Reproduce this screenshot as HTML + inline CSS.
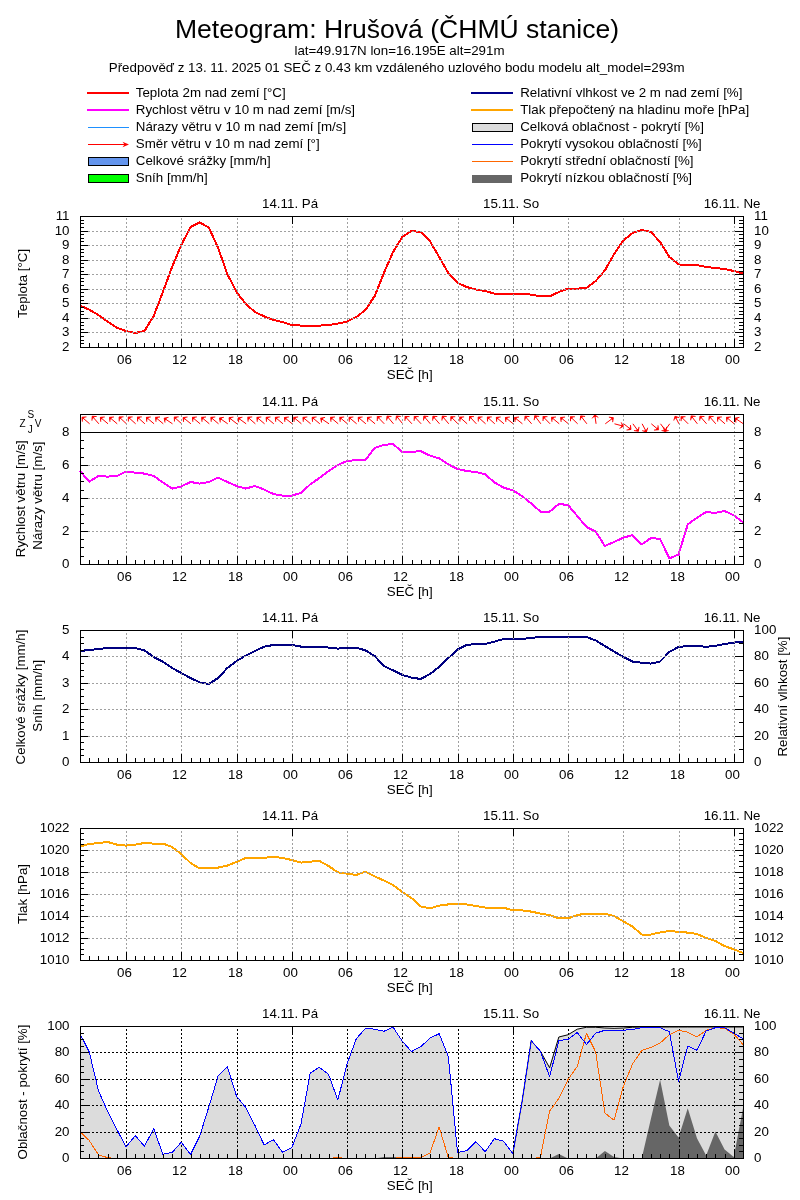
<!DOCTYPE html>
<html><head><meta charset="utf-8"><style>
html,body{margin:0;padding:0;background:#fff;width:800px;height:1200px;overflow:hidden}
svg{display:block;will-change:transform}
text{font-family:"Liberation Sans",sans-serif}
</style></head><body>
<svg width="800" height="1200" viewBox="0 0 800 1200" font-family="Liberation Sans, sans-serif">
<rect width="800" height="1200" fill="#fff"/>
<text x="397.00" y="37.50" font-size="26.55" text-anchor="middle" fill="#000" >Meteogram: Hrušová (ČHMÚ stanice)</text>
<text x="399.50" y="55.00" font-size="13.33" text-anchor="middle" fill="#000" >lat=49.917N lon=16.195E alt=291m</text>
<text x="396.70" y="72.00" font-size="13.33" text-anchor="middle" fill="#000" >Předpověď z 13. 11. 2025 01 SEČ z 0.43 km vzdáleného uzlového bodu modelu alt_model=293m</text>
<line x1="87" y1="93" x2="129" y2="93" stroke="#ff0000" stroke-width="2"/>
<text x="135.80" y="96.60" font-size="13.33" text-anchor="start" fill="#000" >Teplota 2m nad zemí [°C]</text>
<line x1="87" y1="110" x2="129" y2="110" stroke="#ff00ff" stroke-width="2"/>
<text x="135.80" y="113.60" font-size="13.33" text-anchor="start" fill="#000" >Rychlost větru v 10 m nad zemí [m/s]</text>
<line x1="88" y1="127.5" x2="129" y2="127.5" stroke="#1e90ff" stroke-width="1"/>
<text x="135.80" y="130.60" font-size="13.33" text-anchor="start" fill="#000" >Nárazy větru v 10 m nad zemí [m/s]</text>
<line x1="88" y1="144.5" x2="125" y2="144.5" stroke="#ff0000" stroke-width="1"/>
<path d="M129,144.5 L122.5,141.8 L124.5,144.5 L122.5,147.2 Z" fill="#ff0000"/>
<text x="135.80" y="147.60" font-size="13.33" text-anchor="start" fill="#000" >Směr větru v 10 m nad zemí [°]</text>
<rect x="88.5" y="157.5" width="40" height="8" fill="#6495ed" stroke="#000" stroke-width="1"/>
<text x="135.80" y="164.60" font-size="13.33" text-anchor="start" fill="#000" >Celkové srážky [mm/h]</text>
<rect x="88.5" y="174.5" width="40" height="8" fill="#00ff00" stroke="#000" stroke-width="1"/>
<text x="135.80" y="181.60" font-size="13.33" text-anchor="start" fill="#000" >Sníh [mm/h]</text>
<line x1="471" y1="93" x2="513" y2="93" stroke="#00008b" stroke-width="2"/>
<text x="520.20" y="96.60" font-size="13.33" text-anchor="start" fill="#000" >Relativní vlhkost ve 2 m nad zemí [%]</text>
<line x1="471" y1="110" x2="513" y2="110" stroke="#ffa500" stroke-width="2"/>
<text x="520.20" y="113.60" font-size="13.33" text-anchor="start" fill="#000" >Tlak přepočtený na hladinu moře [hPa]</text>
<rect x="472.5" y="123.5" width="40" height="8" fill="#dcdcdc" stroke="#000" stroke-width="1"/>
<text x="520.20" y="130.60" font-size="13.33" text-anchor="start" fill="#000" >Celková oblačnost - pokrytí [%]</text>
<line x1="472" y1="144.5" x2="513" y2="144.5" stroke="#0000ff" stroke-width="1"/>
<text x="520.20" y="147.60" font-size="13.33" text-anchor="start" fill="#000" >Pokrytí vysokou oblačností [%]</text>
<line x1="472" y1="161.5" x2="513" y2="161.5" stroke="#ff6600" stroke-width="1"/>
<text x="520.20" y="164.60" font-size="13.33" text-anchor="start" fill="#000" >Pokrytí střední oblačností [%]</text>
<rect x="472" y="175" width="40" height="8" fill="#666666"/>
<text x="520.20" y="181.60" font-size="13.33" text-anchor="start" fill="#000" >Pokrytí nízkou oblačností [%]</text>
<polyline points="80.00,305.60 89.21,309.60 98.42,315.00 107.62,321.60 116.83,327.60 126.04,331.00 135.25,333.00 144.46,331.00 153.67,316.00 162.88,292.00 172.08,267.00 181.29,245.00 190.50,227.00 199.71,222.40 208.92,227.60 218.12,248.00 227.33,274.00 236.54,292.00 245.75,304.00 254.96,312.00 264.17,316.40 273.38,320.00 282.58,322.00 291.79,325.00 301.00,325.60 310.21,325.60 319.42,325.60 328.62,325.00 337.83,323.60 347.04,321.60 356.25,317.00 365.46,310.00 374.67,296.00 383.88,273.00 393.08,252.00 402.29,237.00 411.50,231.00 420.71,232.00 429.92,241.00 439.12,257.00 448.33,273.00 457.54,283.00 466.75,287.00 475.96,289.60 485.17,291.00 494.38,293.60 503.58,293.60 512.79,293.60 522.00,293.60 531.21,294.60 540.42,296.40 549.62,296.40 558.83,292.00 568.04,288.60 577.25,288.60 586.46,288.00 595.67,281.00 604.88,270.40 614.08,254.00 623.29,240.50 632.50,233.00 641.71,230.00 650.92,232.00 660.12,242.00 669.33,257.00 678.54,264.40 687.75,265.00 696.96,265.00 706.17,267.00 715.38,268.00 724.58,269.00 733.79,271.00 743.00,273.40" fill="none" stroke="#ff0000" stroke-width="2" stroke-linejoin="round" stroke-linecap="butt" shape-rendering="crispEdges"/>
<g stroke="#a0a0a0" stroke-width="1" stroke-dasharray="2,2" fill="none"><line x1="80" y1="332.5" x2="743" y2="332.5"/><line x1="80" y1="318.5" x2="743" y2="318.5"/><line x1="80" y1="303.5" x2="743" y2="303.5"/><line x1="80" y1="289.5" x2="743" y2="289.5"/><line x1="80" y1="274.5" x2="743" y2="274.5"/><line x1="80" y1="260.5" x2="743" y2="260.5"/><line x1="80" y1="245.5" x2="743" y2="245.5"/><line x1="80" y1="231.5" x2="743" y2="231.5"/><line x1="126.5" y1="348" x2="126.5" y2="216"/><line x1="181.5" y1="348" x2="181.5" y2="216"/><line x1="237.5" y1="348" x2="237.5" y2="216"/><line x1="292.5" y1="348" x2="292.5" y2="216"/><line x1="347.5" y1="348" x2="347.5" y2="216"/><line x1="402.5" y1="348" x2="402.5" y2="216"/><line x1="458.5" y1="348" x2="458.5" y2="216"/><line x1="513.5" y1="348" x2="513.5" y2="216"/><line x1="568.5" y1="348" x2="568.5" y2="216"/><line x1="623.5" y1="348" x2="623.5" y2="216"/><line x1="679.5" y1="348" x2="679.5" y2="216"/><line x1="734.5" y1="348" x2="734.5" y2="216"/></g>
<g stroke="#000" stroke-width="1" fill="none"><line x1="80" y1="347.5" x2="88" y2="347.5"/><line x1="735" y1="347.5" x2="743" y2="347.5"/><line x1="80" y1="343.5" x2="84" y2="343.5"/><line x1="739" y1="343.5" x2="743" y2="343.5"/><line x1="80" y1="340.5" x2="84" y2="340.5"/><line x1="739" y1="340.5" x2="743" y2="340.5"/><line x1="80" y1="336.5" x2="84" y2="336.5"/><line x1="739" y1="336.5" x2="743" y2="336.5"/><line x1="80" y1="332.5" x2="88" y2="332.5"/><line x1="735" y1="332.5" x2="743" y2="332.5"/><line x1="80" y1="329.5" x2="84" y2="329.5"/><line x1="739" y1="329.5" x2="743" y2="329.5"/><line x1="80" y1="325.5" x2="84" y2="325.5"/><line x1="739" y1="325.5" x2="743" y2="325.5"/><line x1="80" y1="322.5" x2="84" y2="322.5"/><line x1="739" y1="322.5" x2="743" y2="322.5"/><line x1="80" y1="318.5" x2="88" y2="318.5"/><line x1="735" y1="318.5" x2="743" y2="318.5"/><line x1="80" y1="314.5" x2="84" y2="314.5"/><line x1="739" y1="314.5" x2="743" y2="314.5"/><line x1="80" y1="311.5" x2="84" y2="311.5"/><line x1="739" y1="311.5" x2="743" y2="311.5"/><line x1="80" y1="307.5" x2="84" y2="307.5"/><line x1="739" y1="307.5" x2="743" y2="307.5"/><line x1="80" y1="303.5" x2="88" y2="303.5"/><line x1="735" y1="303.5" x2="743" y2="303.5"/><line x1="80" y1="300.5" x2="84" y2="300.5"/><line x1="739" y1="300.5" x2="743" y2="300.5"/><line x1="80" y1="296.5" x2="84" y2="296.5"/><line x1="739" y1="296.5" x2="743" y2="296.5"/><line x1="80" y1="292.5" x2="84" y2="292.5"/><line x1="739" y1="292.5" x2="743" y2="292.5"/><line x1="80" y1="289.5" x2="88" y2="289.5"/><line x1="735" y1="289.5" x2="743" y2="289.5"/><line x1="80" y1="285.5" x2="84" y2="285.5"/><line x1="739" y1="285.5" x2="743" y2="285.5"/><line x1="80" y1="281.5" x2="84" y2="281.5"/><line x1="739" y1="281.5" x2="743" y2="281.5"/><line x1="80" y1="278.5" x2="84" y2="278.5"/><line x1="739" y1="278.5" x2="743" y2="278.5"/><line x1="80" y1="274.5" x2="88" y2="274.5"/><line x1="735" y1="274.5" x2="743" y2="274.5"/><line x1="80" y1="271.5" x2="84" y2="271.5"/><line x1="739" y1="271.5" x2="743" y2="271.5"/><line x1="80" y1="267.5" x2="84" y2="267.5"/><line x1="739" y1="267.5" x2="743" y2="267.5"/><line x1="80" y1="263.5" x2="84" y2="263.5"/><line x1="739" y1="263.5" x2="743" y2="263.5"/><line x1="80" y1="260.5" x2="88" y2="260.5"/><line x1="735" y1="260.5" x2="743" y2="260.5"/><line x1="80" y1="256.5" x2="84" y2="256.5"/><line x1="739" y1="256.5" x2="743" y2="256.5"/><line x1="80" y1="252.5" x2="84" y2="252.5"/><line x1="739" y1="252.5" x2="743" y2="252.5"/><line x1="80" y1="249.5" x2="84" y2="249.5"/><line x1="739" y1="249.5" x2="743" y2="249.5"/><line x1="80" y1="245.5" x2="88" y2="245.5"/><line x1="735" y1="245.5" x2="743" y2="245.5"/><line x1="80" y1="241.5" x2="84" y2="241.5"/><line x1="739" y1="241.5" x2="743" y2="241.5"/><line x1="80" y1="238.5" x2="84" y2="238.5"/><line x1="739" y1="238.5" x2="743" y2="238.5"/><line x1="80" y1="234.5" x2="84" y2="234.5"/><line x1="739" y1="234.5" x2="743" y2="234.5"/><line x1="80" y1="231.5" x2="88" y2="231.5"/><line x1="735" y1="231.5" x2="743" y2="231.5"/><line x1="80" y1="227.5" x2="84" y2="227.5"/><line x1="739" y1="227.5" x2="743" y2="227.5"/><line x1="80" y1="223.5" x2="84" y2="223.5"/><line x1="739" y1="223.5" x2="743" y2="223.5"/><line x1="80" y1="220.5" x2="84" y2="220.5"/><line x1="739" y1="220.5" x2="743" y2="220.5"/><line x1="80" y1="216.5" x2="88" y2="216.5"/><line x1="735" y1="216.5" x2="743" y2="216.5"/><line x1="80.5" y1="347" x2="80.5" y2="343"/><line x1="89.5" y1="347" x2="89.5" y2="343"/><line x1="98.5" y1="347" x2="98.5" y2="343"/><line x1="108.5" y1="347" x2="108.5" y2="343"/><line x1="117.5" y1="347" x2="117.5" y2="343"/><line x1="126.5" y1="347" x2="126.5" y2="339"/><line x1="135.5" y1="347" x2="135.5" y2="343"/><line x1="144.5" y1="347" x2="144.5" y2="343"/><line x1="154.5" y1="347" x2="154.5" y2="343"/><line x1="163.5" y1="347" x2="163.5" y2="343"/><line x1="172.5" y1="347" x2="172.5" y2="343"/><line x1="181.5" y1="347" x2="181.5" y2="339"/><line x1="191.5" y1="347" x2="191.5" y2="343"/><line x1="200.5" y1="347" x2="200.5" y2="343"/><line x1="209.5" y1="347" x2="209.5" y2="343"/><line x1="218.5" y1="347" x2="218.5" y2="343"/><line x1="227.5" y1="347" x2="227.5" y2="343"/><line x1="237.5" y1="347" x2="237.5" y2="339"/><line x1="246.5" y1="347" x2="246.5" y2="343"/><line x1="255.5" y1="347" x2="255.5" y2="343"/><line x1="264.5" y1="347" x2="264.5" y2="343"/><line x1="273.5" y1="347" x2="273.5" y2="343"/><line x1="283.5" y1="347" x2="283.5" y2="343"/><line x1="292.5" y1="347" x2="292.5" y2="339"/><line x1="292.5" y1="216" x2="292.5" y2="224"/><line x1="301.5" y1="347" x2="301.5" y2="343"/><line x1="310.5" y1="347" x2="310.5" y2="343"/><line x1="319.5" y1="347" x2="319.5" y2="343"/><line x1="329.5" y1="347" x2="329.5" y2="343"/><line x1="338.5" y1="347" x2="338.5" y2="343"/><line x1="347.5" y1="347" x2="347.5" y2="339"/><line x1="356.5" y1="347" x2="356.5" y2="343"/><line x1="365.5" y1="347" x2="365.5" y2="343"/><line x1="375.5" y1="347" x2="375.5" y2="343"/><line x1="384.5" y1="347" x2="384.5" y2="343"/><line x1="393.5" y1="347" x2="393.5" y2="343"/><line x1="402.5" y1="347" x2="402.5" y2="339"/><line x1="412.5" y1="347" x2="412.5" y2="343"/><line x1="421.5" y1="347" x2="421.5" y2="343"/><line x1="430.5" y1="347" x2="430.5" y2="343"/><line x1="439.5" y1="347" x2="439.5" y2="343"/><line x1="448.5" y1="347" x2="448.5" y2="343"/><line x1="458.5" y1="347" x2="458.5" y2="339"/><line x1="467.5" y1="347" x2="467.5" y2="343"/><line x1="476.5" y1="347" x2="476.5" y2="343"/><line x1="485.5" y1="347" x2="485.5" y2="343"/><line x1="494.5" y1="347" x2="494.5" y2="343"/><line x1="504.5" y1="347" x2="504.5" y2="343"/><line x1="513.5" y1="347" x2="513.5" y2="339"/><line x1="513.5" y1="216" x2="513.5" y2="224"/><line x1="522.5" y1="347" x2="522.5" y2="343"/><line x1="531.5" y1="347" x2="531.5" y2="343"/><line x1="540.5" y1="347" x2="540.5" y2="343"/><line x1="550.5" y1="347" x2="550.5" y2="343"/><line x1="559.5" y1="347" x2="559.5" y2="343"/><line x1="568.5" y1="347" x2="568.5" y2="339"/><line x1="577.5" y1="347" x2="577.5" y2="343"/><line x1="586.5" y1="347" x2="586.5" y2="343"/><line x1="596.5" y1="347" x2="596.5" y2="343"/><line x1="605.5" y1="347" x2="605.5" y2="343"/><line x1="614.5" y1="347" x2="614.5" y2="343"/><line x1="623.5" y1="347" x2="623.5" y2="339"/><line x1="633.5" y1="347" x2="633.5" y2="343"/><line x1="642.5" y1="347" x2="642.5" y2="343"/><line x1="651.5" y1="347" x2="651.5" y2="343"/><line x1="660.5" y1="347" x2="660.5" y2="343"/><line x1="669.5" y1="347" x2="669.5" y2="343"/><line x1="679.5" y1="347" x2="679.5" y2="339"/><line x1="688.5" y1="347" x2="688.5" y2="343"/><line x1="697.5" y1="347" x2="697.5" y2="343"/><line x1="706.5" y1="347" x2="706.5" y2="343"/><line x1="715.5" y1="347" x2="715.5" y2="343"/><line x1="725.5" y1="347" x2="725.5" y2="343"/><line x1="734.5" y1="347" x2="734.5" y2="339"/><line x1="734.5" y1="216" x2="734.5" y2="224"/><line x1="743.5" y1="347" x2="743.5" y2="343"/><rect x="80.5" y="216.5" width="663" height="131"/></g>
<text x="69.50" y="351.20" font-size="13.33" text-anchor="end" fill="#000" >2</text>
<text x="754.10" y="351.20" font-size="13.33" text-anchor="start" fill="#000" >2</text>
<text x="69.50" y="336.20" font-size="13.33" text-anchor="end" fill="#000" >3</text>
<text x="754.10" y="336.20" font-size="13.33" text-anchor="start" fill="#000" >3</text>
<text x="69.50" y="322.20" font-size="13.33" text-anchor="end" fill="#000" >4</text>
<text x="754.10" y="322.20" font-size="13.33" text-anchor="start" fill="#000" >4</text>
<text x="69.50" y="307.20" font-size="13.33" text-anchor="end" fill="#000" >5</text>
<text x="754.10" y="307.20" font-size="13.33" text-anchor="start" fill="#000" >5</text>
<text x="69.50" y="293.20" font-size="13.33" text-anchor="end" fill="#000" >6</text>
<text x="754.10" y="293.20" font-size="13.33" text-anchor="start" fill="#000" >6</text>
<text x="69.50" y="278.20" font-size="13.33" text-anchor="end" fill="#000" >7</text>
<text x="754.10" y="278.20" font-size="13.33" text-anchor="start" fill="#000" >7</text>
<text x="69.50" y="264.20" font-size="13.33" text-anchor="end" fill="#000" >8</text>
<text x="754.10" y="264.20" font-size="13.33" text-anchor="start" fill="#000" >8</text>
<text x="69.50" y="249.20" font-size="13.33" text-anchor="end" fill="#000" >9</text>
<text x="754.10" y="249.20" font-size="13.33" text-anchor="start" fill="#000" >9</text>
<text x="69.50" y="235.20" font-size="13.33" text-anchor="end" fill="#000" >10</text>
<text x="754.10" y="235.20" font-size="13.33" text-anchor="start" fill="#000" >10</text>
<text x="69.50" y="220.20" font-size="13.33" text-anchor="end" fill="#000" >11</text>
<text x="754.10" y="220.20" font-size="13.33" text-anchor="start" fill="#000" >11</text>
<text x="124.50" y="364.00" font-size="13.33" text-anchor="middle" fill="#000" >06</text>
<text x="179.50" y="364.00" font-size="13.33" text-anchor="middle" fill="#000" >12</text>
<text x="235.50" y="364.00" font-size="13.33" text-anchor="middle" fill="#000" >18</text>
<text x="290.50" y="364.00" font-size="13.33" text-anchor="middle" fill="#000" >00</text>
<text x="345.50" y="364.00" font-size="13.33" text-anchor="middle" fill="#000" >06</text>
<text x="400.50" y="364.00" font-size="13.33" text-anchor="middle" fill="#000" >12</text>
<text x="456.50" y="364.00" font-size="13.33" text-anchor="middle" fill="#000" >18</text>
<text x="511.50" y="364.00" font-size="13.33" text-anchor="middle" fill="#000" >00</text>
<text x="566.50" y="364.00" font-size="13.33" text-anchor="middle" fill="#000" >06</text>
<text x="621.50" y="364.00" font-size="13.33" text-anchor="middle" fill="#000" >12</text>
<text x="677.50" y="364.00" font-size="13.33" text-anchor="middle" fill="#000" >18</text>
<text x="732.50" y="364.00" font-size="13.33" text-anchor="middle" fill="#000" >00</text>
<text x="409.75" y="379.30" font-size="13.33" text-anchor="middle" fill="#000" >SEČ [h]</text>
<text x="290.10" y="208.00" font-size="13.33" text-anchor="middle" fill="#000" >14.11. Pá</text>
<text x="511.10" y="208.00" font-size="13.33" text-anchor="middle" fill="#000" >15.11. So</text>
<text x="732.10" y="208.00" font-size="13.33" text-anchor="middle" fill="#000" >16.11. Ne</text>
<text x="0" y="0" font-size="13.33" text-anchor="middle" transform="translate(27,283.4) rotate(-90)">Teplota [°C]</text>
<polyline points="80.00,471.00 89.21,481.60 98.42,476.00 107.62,476.60 116.83,476.00 126.04,471.60 135.25,472.60 144.46,473.60 153.67,476.00 162.88,482.40 172.08,488.60 181.29,486.40 190.50,482.00 199.71,483.60 208.92,482.00 218.12,477.60 227.33,482.00 236.54,486.00 245.75,488.60 254.96,486.00 264.17,489.60 273.38,494.00 282.58,495.60 291.79,495.60 301.00,493.00 310.21,484.40 319.42,478.00 328.62,471.00 337.83,465.00 347.04,461.00 356.25,460.00 365.46,460.00 374.67,448.00 383.88,445.00 393.08,444.00 402.29,452.00 411.50,452.00 420.71,451.00 429.92,455.60 439.12,458.40 448.33,464.40 457.54,469.00 466.75,471.00 475.96,472.00 485.17,474.40 494.38,482.40 503.58,487.60 512.79,490.40 522.00,496.00 531.21,503.40 540.42,511.60 549.62,511.60 558.83,504.00 568.04,505.00 577.25,516.00 586.46,527.00 595.67,531.60 604.88,546.00 614.08,542.00 623.29,537.60 632.50,535.20 641.71,544.50 650.92,538.00 660.12,539.00 669.33,558.40 678.54,554.50 687.75,524.50 696.96,517.70 706.17,512.00 715.38,512.90 724.58,511.00 733.79,515.30 743.00,522.30" fill="none" stroke="#ff00ff" stroke-width="2" stroke-linejoin="round" stroke-linecap="butt" shape-rendering="crispEdges"/><g stroke="#ff0000" fill="#ff0000" stroke-width="1"><line x1="89.61" y1="423.80" x2="82.06" y2="417.24"/><polyline fill="none" points="82.37,421.63 82.06,417.24 86.45,416.93"/><polygon stroke="none" points="82.06,417.24 82.27,420.23 85.05,417.03"/><line x1="98.82" y1="423.80" x2="92.26" y2="416.25"/><polyline fill="none" points="91.95,420.64 92.26,416.25 96.65,416.56"/><polygon stroke="none" points="92.26,416.25 92.05,419.25 95.25,416.46"/><line x1="108.03" y1="423.80" x2="100.36" y2="417.37"/><polyline fill="none" points="100.75,421.76 100.36,417.37 104.75,416.99"/><polygon stroke="none" points="100.36,417.37 100.63,420.36 103.35,417.11"/><line x1="117.23" y1="423.80" x2="109.57" y2="417.37"/><polyline fill="none" points="109.96,421.76 109.57,417.37 113.96,416.99"/><polygon stroke="none" points="109.57,417.37 109.83,420.36 112.56,417.11"/><line x1="126.44" y1="423.80" x2="119.13" y2="416.98"/><polyline fill="none" points="119.28,421.38 119.13,416.98 123.53,416.83"/><polygon stroke="none" points="119.13,416.98 119.23,419.98 122.13,416.88"/><line x1="135.65" y1="423.80" x2="128.22" y2="417.11"/><polyline fill="none" points="128.45,421.50 128.22,417.11 132.61,416.88"/><polygon stroke="none" points="128.22,417.11 128.38,420.10 131.21,416.95"/><line x1="144.86" y1="423.80" x2="137.43" y2="417.11"/><polyline fill="none" points="137.66,421.50 137.43,417.11 141.82,416.88"/><polygon stroke="none" points="137.43,417.11 137.58,420.10 140.42,416.95"/><line x1="154.07" y1="423.80" x2="146.41" y2="417.37"/><polyline fill="none" points="146.79,421.76 146.41,417.37 150.79,416.99"/><polygon stroke="none" points="146.41,417.37 146.67,420.36 149.39,417.11"/><line x1="163.28" y1="423.80" x2="155.61" y2="417.37"/><polyline fill="none" points="156.00,421.76 155.61,417.37 160.00,416.99"/><polygon stroke="none" points="155.61,417.37 155.88,420.36 158.60,417.11"/><line x1="172.48" y1="423.80" x2="164.19" y2="418.21"/><polyline fill="none" points="165.03,422.53 164.19,418.21 168.51,417.37"/><polygon stroke="none" points="164.19,418.21 164.77,421.15 167.14,417.64"/><line x1="181.69" y1="423.80" x2="174.26" y2="417.11"/><polyline fill="none" points="174.49,421.50 174.26,417.11 178.65,416.88"/><polygon stroke="none" points="174.26,417.11 174.42,420.10 177.26,416.95"/><line x1="190.90" y1="423.80" x2="183.13" y2="417.51"/><polyline fill="none" points="183.59,421.88 183.13,417.51 187.50,417.05"/><polygon stroke="none" points="183.13,417.51 183.44,420.49 186.11,417.19"/><line x1="200.11" y1="423.80" x2="192.45" y2="417.37"/><polyline fill="none" points="192.83,421.76 192.45,417.37 196.83,416.99"/><polygon stroke="none" points="192.45,417.37 192.71,420.36 195.44,417.11"/><line x1="209.32" y1="423.80" x2="201.66" y2="417.37"/><polyline fill="none" points="202.04,421.76 201.66,417.37 206.04,416.99"/><polygon stroke="none" points="201.66,417.37 201.92,420.36 204.64,417.11"/><line x1="218.53" y1="423.80" x2="210.86" y2="417.37"/><polyline fill="none" points="211.25,421.76 210.86,417.37 215.25,416.99"/><polygon stroke="none" points="210.86,417.37 211.13,420.36 213.85,417.11"/><line x1="227.73" y1="423.80" x2="219.54" y2="418.06"/><polyline fill="none" points="220.31,422.40 219.54,418.06 223.87,417.30"/><polygon stroke="none" points="219.54,418.06 220.06,421.02 222.50,417.54"/><line x1="236.94" y1="423.80" x2="229.06" y2="417.64"/><polyline fill="none" points="229.60,422.01 229.06,417.64 233.43,417.11"/><polygon stroke="none" points="229.06,417.64 229.43,420.62 232.04,417.28"/><line x1="246.15" y1="423.80" x2="238.06" y2="417.92"/><polyline fill="none" points="238.75,422.27 238.06,417.92 242.41,417.23"/><polygon stroke="none" points="238.06,417.92 238.53,420.89 241.02,417.45"/><line x1="255.36" y1="423.80" x2="247.81" y2="417.24"/><polyline fill="none" points="248.12,421.63 247.81,417.24 252.20,416.93"/><polygon stroke="none" points="247.81,417.24 248.02,420.23 250.80,417.03"/><line x1="264.57" y1="423.80" x2="256.91" y2="417.37"/><polyline fill="none" points="257.29,421.76 256.91,417.37 261.29,416.99"/><polygon stroke="none" points="256.91,417.37 257.17,420.36 259.89,417.11"/><line x1="273.77" y1="423.80" x2="266.11" y2="417.37"/><polyline fill="none" points="266.50,421.76 266.11,417.37 270.50,416.99"/><polygon stroke="none" points="266.11,417.37 266.38,420.36 269.10,417.11"/><line x1="282.98" y1="423.80" x2="275.32" y2="417.37"/><polyline fill="none" points="275.71,421.76 275.32,417.37 279.71,416.99"/><polygon stroke="none" points="275.32,417.37 275.58,420.36 278.31,417.11"/><line x1="292.19" y1="423.80" x2="284.42" y2="417.51"/><polyline fill="none" points="284.88,421.88 284.42,417.51 288.80,417.05"/><polygon stroke="none" points="284.42,417.51 284.73,420.49 287.40,417.19"/><line x1="301.40" y1="423.80" x2="293.74" y2="417.37"/><polyline fill="none" points="294.12,421.76 293.74,417.37 298.12,416.99"/><polygon stroke="none" points="293.74,417.37 294.00,420.36 296.73,417.11"/><line x1="310.61" y1="423.80" x2="302.95" y2="417.37"/><polyline fill="none" points="303.33,421.76 302.95,417.37 307.33,416.99"/><polygon stroke="none" points="302.95,417.37 303.21,420.36 305.94,417.11"/><line x1="319.82" y1="423.80" x2="312.16" y2="417.37"/><polyline fill="none" points="312.54,421.76 312.16,417.37 316.54,416.99"/><polygon stroke="none" points="312.16,417.37 312.42,420.36 315.14,417.11"/><line x1="329.02" y1="423.80" x2="320.73" y2="418.21"/><polyline fill="none" points="321.57,422.53 320.73,418.21 325.05,417.37"/><polygon stroke="none" points="320.73,418.21 321.31,421.15 323.68,417.64"/><line x1="338.23" y1="423.80" x2="330.57" y2="417.37"/><polyline fill="none" points="330.96,421.76 330.57,417.37 334.96,416.99"/><polygon stroke="none" points="330.57,417.37 330.83,420.36 333.56,417.11"/><line x1="347.44" y1="423.80" x2="339.78" y2="417.37"/><polyline fill="none" points="340.16,421.76 339.78,417.37 344.16,416.99"/><polygon stroke="none" points="339.78,417.37 340.04,420.36 342.77,417.11"/><line x1="356.65" y1="423.80" x2="348.99" y2="417.37"/><polyline fill="none" points="349.37,421.76 348.99,417.37 353.37,416.99"/><polygon stroke="none" points="348.99,417.37 349.25,420.36 351.98,417.11"/><line x1="365.86" y1="423.80" x2="358.20" y2="417.37"/><polyline fill="none" points="358.58,421.76 358.20,417.37 362.58,416.99"/><polygon stroke="none" points="358.20,417.37 358.46,420.36 361.19,417.11"/><line x1="375.07" y1="423.80" x2="367.41" y2="417.37"/><polyline fill="none" points="367.79,421.76 367.41,417.37 371.79,416.99"/><polygon stroke="none" points="367.41,417.37 367.67,420.36 370.39,417.11"/><line x1="384.27" y1="423.80" x2="377.33" y2="416.61"/><polyline fill="none" points="377.25,421.01 377.33,416.61 381.73,416.68"/><polygon stroke="none" points="377.33,416.61 377.28,419.61 380.33,416.66"/><line x1="393.48" y1="423.80" x2="387.06" y2="416.14"/><polyline fill="none" points="386.67,420.52 387.06,416.14 391.44,416.52"/><polygon stroke="none" points="387.06,416.14 386.79,419.13 390.04,416.40"/><line x1="402.69" y1="423.80" x2="396.40" y2="416.03"/><polyline fill="none" points="395.94,420.40 396.40,416.03 400.77,416.49"/><polygon stroke="none" points="396.40,416.03 396.08,419.01 399.38,416.34"/><line x1="411.90" y1="423.80" x2="405.08" y2="416.49"/><polyline fill="none" points="404.93,420.88 405.08,416.49 409.48,416.64"/><polygon stroke="none" points="405.08,416.49 404.98,419.48 408.08,416.59"/><line x1="421.11" y1="423.80" x2="414.29" y2="416.49"/><polyline fill="none" points="414.13,420.88 414.29,416.49 418.69,416.64"/><polygon stroke="none" points="414.29,416.49 414.18,419.48 417.29,416.59"/><line x1="430.32" y1="423.80" x2="423.89" y2="416.14"/><polyline fill="none" points="423.51,420.52 423.89,416.14 428.27,416.52"/><polygon stroke="none" points="423.89,416.14 423.63,419.13 426.88,416.40"/><line x1="439.52" y1="423.80" x2="432.96" y2="416.25"/><polyline fill="none" points="432.66,420.64 432.96,416.25 437.35,416.56"/><polygon stroke="none" points="432.96,416.25 432.76,419.25 435.96,416.46"/><line x1="448.73" y1="423.80" x2="442.31" y2="416.14"/><polyline fill="none" points="441.92,420.52 442.31,416.14 446.69,416.52"/><polygon stroke="none" points="442.31,416.14 442.04,419.13 445.29,416.40"/><line x1="457.94" y1="423.80" x2="450.87" y2="416.73"/><polyline fill="none" points="450.87,421.13 450.87,416.73 455.27,416.73"/><polygon stroke="none" points="450.87,416.73 450.87,419.73 453.87,416.73"/><line x1="467.15" y1="423.80" x2="459.72" y2="417.11"/><polyline fill="none" points="459.95,421.50 459.72,417.11 464.11,416.88"/><polygon stroke="none" points="459.72,417.11 459.88,420.10 462.71,416.95"/><line x1="476.36" y1="423.80" x2="469.54" y2="416.49"/><polyline fill="none" points="469.38,420.88 469.54,416.49 473.94,416.64"/><polygon stroke="none" points="469.54,416.49 469.43,419.48 472.54,416.59"/><line x1="485.57" y1="423.80" x2="478.14" y2="417.11"/><polyline fill="none" points="478.37,421.50 478.14,417.11 482.53,416.88"/><polygon stroke="none" points="478.14,417.11 478.29,420.10 481.13,416.95"/><line x1="494.77" y1="423.80" x2="487.34" y2="417.11"/><polyline fill="none" points="487.57,421.50 487.34,417.11 491.74,416.88"/><polygon stroke="none" points="487.34,417.11 487.50,420.10 490.34,416.95"/><line x1="503.98" y1="423.80" x2="496.32" y2="417.37"/><polyline fill="none" points="496.71,421.76 496.32,417.37 500.71,416.99"/><polygon stroke="none" points="496.32,417.37 496.58,420.36 499.31,417.11"/><line x1="513.19" y1="423.80" x2="505.42" y2="417.51"/><polyline fill="none" points="505.88,421.88 505.42,417.51 509.80,417.05"/><polygon stroke="none" points="505.42,417.51 505.73,420.49 508.40,417.19"/><line x1="522.40" y1="423.80" x2="514.63" y2="417.51"/><polyline fill="none" points="515.09,421.88 514.63,417.51 519.00,417.05"/><polygon stroke="none" points="514.63,417.51 514.94,420.49 517.61,417.19"/><line x1="531.61" y1="423.80" x2="525.05" y2="416.25"/><polyline fill="none" points="524.74,420.64 525.05,416.25 529.44,416.56"/><polygon stroke="none" points="525.05,416.25 524.84,419.25 528.04,416.46"/><line x1="540.82" y1="423.80" x2="534.80" y2="415.81"/><polyline fill="none" points="534.19,420.17 534.80,415.81 539.16,416.43"/><polygon stroke="none" points="534.80,415.81 534.38,418.78 537.77,416.23"/><line x1="550.02" y1="423.80" x2="543.08" y2="416.61"/><polyline fill="none" points="543.00,421.01 543.08,416.61 547.48,416.68"/><polygon stroke="none" points="543.08,416.61 543.03,419.61 546.08,416.66"/><line x1="559.23" y1="423.80" x2="551.57" y2="417.37"/><polyline fill="none" points="551.96,421.76 551.57,417.37 555.96,416.99"/><polygon stroke="none" points="551.57,417.37 551.83,420.36 554.56,417.11"/><line x1="568.44" y1="423.80" x2="560.67" y2="417.51"/><polyline fill="none" points="561.13,421.88 560.67,417.51 565.05,417.05"/><polygon stroke="none" points="560.67,417.51 560.98,420.49 563.65,417.19"/><line x1="577.65" y1="423.80" x2="570.46" y2="416.85"/><polyline fill="none" points="570.53,421.25 570.46,416.85 574.86,416.78"/><polygon stroke="none" points="570.46,416.85 570.51,419.85 573.46,416.80"/><line x1="586.86" y1="423.80" x2="580.70" y2="415.92"/><polyline fill="none" points="580.17,420.29 580.70,415.92 585.07,416.46"/><polygon stroke="none" points="580.70,415.92 580.34,418.90 583.68,416.29"/><line x1="596.07" y1="423.80" x2="594.81" y2="414.89"/><polyline fill="none" points="592.17,418.40 594.81,414.89 598.33,417.54"/><polygon stroke="none" points="594.81,414.89 593.01,417.28 597.21,416.69"/><line x1="605.27" y1="423.80" x2="613.26" y2="417.78"/><polyline fill="none" points="608.90,417.17 613.26,417.78 612.65,422.14"/><polygon stroke="none" points="613.26,417.78 610.29,417.36 612.84,420.75"/><line x1="614.48" y1="423.80" x2="623.37" y2="426.18"/><polyline fill="none" points="621.17,422.37 623.37,426.18 619.56,428.38"/><polygon stroke="none" points="623.37,426.18 621.87,423.58 620.77,427.68"/><line x1="623.69" y1="423.80" x2="630.94" y2="429.46"/><polyline fill="none" points="630.41,425.10 630.94,429.46 626.57,430.00"/><polygon stroke="none" points="630.94,429.46 630.58,426.49 627.96,429.83"/><line x1="632.90" y1="423.80" x2="638.31" y2="431.24"/><polyline fill="none" points="639.00,426.90 638.31,431.24 633.96,430.55"/><polygon stroke="none" points="638.31,431.24 638.78,428.28 635.34,430.77"/><line x1="642.11" y1="423.80" x2="646.43" y2="431.92"/><polyline fill="none" points="647.71,427.72 646.43,431.92 642.22,430.64"/><polygon stroke="none" points="646.43,431.92 647.30,429.05 643.56,431.05"/><line x1="651.32" y1="423.80" x2="658.36" y2="429.71"/><polyline fill="none" points="657.98,425.33 658.36,429.71 653.98,430.10"/><polygon stroke="none" points="658.36,429.71 658.10,426.73 655.38,429.98"/><line x1="660.52" y1="423.80" x2="665.93" y2="431.24"/><polyline fill="none" points="666.62,426.90 665.93,431.24 661.59,430.55"/><polygon stroke="none" points="665.93,431.24 666.40,428.28 662.97,430.77"/><line x1="669.73" y1="423.80" x2="664.33" y2="431.24"/><polyline fill="none" points="668.67,430.55 664.33,431.24 663.64,426.90"/><polygon stroke="none" points="664.33,431.24 667.29,430.77 663.86,428.28"/><line x1="678.94" y1="423.80" x2="675.13" y2="416.32"/><polyline fill="none" points="673.77,420.50 675.13,416.32 679.31,417.68"/><polygon stroke="none" points="675.13,416.32 674.20,419.17 677.98,417.24"/><line x1="688.15" y1="423.80" x2="681.08" y2="416.73"/><polyline fill="none" points="681.08,421.13 681.08,416.73 685.48,416.73"/><polygon stroke="none" points="681.08,416.73 681.08,419.73 684.08,416.73"/><line x1="697.36" y1="423.80" x2="691.20" y2="415.92"/><polyline fill="none" points="690.67,420.29 691.20,415.92 695.57,416.46"/><polygon stroke="none" points="691.20,415.92 690.84,418.90 694.18,416.29"/><line x1="706.57" y1="423.80" x2="700.01" y2="416.25"/><polyline fill="none" points="699.70,420.64 700.01,416.25 704.40,416.56"/><polygon stroke="none" points="700.01,416.25 699.80,419.25 703.00,416.46"/><line x1="715.77" y1="423.80" x2="709.21" y2="416.25"/><polyline fill="none" points="708.91,420.64 709.21,416.25 713.60,416.56"/><polygon stroke="none" points="709.21,416.25 709.01,419.25 712.21,416.46"/><line x1="724.98" y1="423.80" x2="717.44" y2="417.24"/><polyline fill="none" points="717.74,421.63 717.44,417.24 721.83,416.93"/><polygon stroke="none" points="717.44,417.24 717.65,420.23 720.43,417.03"/><line x1="734.19" y1="423.80" x2="726.53" y2="417.37"/><polyline fill="none" points="726.91,421.76 726.53,417.37 730.91,416.99"/><polygon stroke="none" points="726.53,417.37 726.79,420.36 729.52,417.11"/><line x1="743.40" y1="423.80" x2="735.11" y2="418.21"/><polyline fill="none" points="735.95,422.53 735.11,418.21 739.43,417.37"/><polygon stroke="none" points="735.11,418.21 735.68,421.15 738.05,417.64"/></g>
<g stroke="#a0a0a0" stroke-width="1" stroke-dasharray="2,2" fill="none"><line x1="80" y1="531.5" x2="743" y2="531.5"/><line x1="80" y1="498.5" x2="743" y2="498.5"/><line x1="80" y1="465.5" x2="743" y2="465.5"/><line x1="126.5" y1="565" x2="126.5" y2="414"/><line x1="181.5" y1="565" x2="181.5" y2="414"/><line x1="237.5" y1="565" x2="237.5" y2="414"/><line x1="292.5" y1="565" x2="292.5" y2="414"/><line x1="347.5" y1="565" x2="347.5" y2="414"/><line x1="402.5" y1="565" x2="402.5" y2="414"/><line x1="458.5" y1="565" x2="458.5" y2="414"/><line x1="513.5" y1="565" x2="513.5" y2="414"/><line x1="568.5" y1="565" x2="568.5" y2="414"/><line x1="623.5" y1="565" x2="623.5" y2="414"/><line x1="679.5" y1="565" x2="679.5" y2="414"/><line x1="734.5" y1="565" x2="734.5" y2="414"/></g>
<g stroke="#000" stroke-width="1" fill="none"><line x1="80" y1="564.5" x2="88" y2="564.5"/><line x1="735" y1="564.5" x2="743" y2="564.5"/><line x1="80" y1="556.5" x2="84" y2="556.5"/><line x1="739" y1="556.5" x2="743" y2="556.5"/><line x1="80" y1="547.5" x2="84" y2="547.5"/><line x1="739" y1="547.5" x2="743" y2="547.5"/><line x1="80" y1="539.5" x2="84" y2="539.5"/><line x1="739" y1="539.5" x2="743" y2="539.5"/><line x1="80" y1="531.5" x2="88" y2="531.5"/><line x1="735" y1="531.5" x2="743" y2="531.5"/><line x1="80" y1="523.5" x2="84" y2="523.5"/><line x1="739" y1="523.5" x2="743" y2="523.5"/><line x1="80" y1="514.5" x2="84" y2="514.5"/><line x1="739" y1="514.5" x2="743" y2="514.5"/><line x1="80" y1="506.5" x2="84" y2="506.5"/><line x1="739" y1="506.5" x2="743" y2="506.5"/><line x1="80" y1="498.5" x2="88" y2="498.5"/><line x1="735" y1="498.5" x2="743" y2="498.5"/><line x1="80" y1="490.5" x2="84" y2="490.5"/><line x1="739" y1="490.5" x2="743" y2="490.5"/><line x1="80" y1="481.5" x2="84" y2="481.5"/><line x1="739" y1="481.5" x2="743" y2="481.5"/><line x1="80" y1="473.5" x2="84" y2="473.5"/><line x1="739" y1="473.5" x2="743" y2="473.5"/><line x1="80" y1="465.5" x2="88" y2="465.5"/><line x1="735" y1="465.5" x2="743" y2="465.5"/><line x1="80" y1="457.5" x2="84" y2="457.5"/><line x1="739" y1="457.5" x2="743" y2="457.5"/><line x1="80" y1="448.5" x2="84" y2="448.5"/><line x1="739" y1="448.5" x2="743" y2="448.5"/><line x1="80" y1="440.5" x2="84" y2="440.5"/><line x1="739" y1="440.5" x2="743" y2="440.5"/><line x1="80" y1="432.5" x2="88" y2="432.5"/><line x1="735" y1="432.5" x2="743" y2="432.5"/><line x1="80.5" y1="564" x2="80.5" y2="560"/><line x1="89.5" y1="564" x2="89.5" y2="560"/><line x1="98.5" y1="564" x2="98.5" y2="560"/><line x1="108.5" y1="564" x2="108.5" y2="560"/><line x1="117.5" y1="564" x2="117.5" y2="560"/><line x1="126.5" y1="564" x2="126.5" y2="556"/><line x1="135.5" y1="564" x2="135.5" y2="560"/><line x1="144.5" y1="564" x2="144.5" y2="560"/><line x1="154.5" y1="564" x2="154.5" y2="560"/><line x1="163.5" y1="564" x2="163.5" y2="560"/><line x1="172.5" y1="564" x2="172.5" y2="560"/><line x1="181.5" y1="564" x2="181.5" y2="556"/><line x1="191.5" y1="564" x2="191.5" y2="560"/><line x1="200.5" y1="564" x2="200.5" y2="560"/><line x1="209.5" y1="564" x2="209.5" y2="560"/><line x1="218.5" y1="564" x2="218.5" y2="560"/><line x1="227.5" y1="564" x2="227.5" y2="560"/><line x1="237.5" y1="564" x2="237.5" y2="556"/><line x1="246.5" y1="564" x2="246.5" y2="560"/><line x1="255.5" y1="564" x2="255.5" y2="560"/><line x1="264.5" y1="564" x2="264.5" y2="560"/><line x1="273.5" y1="564" x2="273.5" y2="560"/><line x1="283.5" y1="564" x2="283.5" y2="560"/><line x1="292.5" y1="564" x2="292.5" y2="556"/><line x1="292.5" y1="414" x2="292.5" y2="422"/><line x1="301.5" y1="564" x2="301.5" y2="560"/><line x1="310.5" y1="564" x2="310.5" y2="560"/><line x1="319.5" y1="564" x2="319.5" y2="560"/><line x1="329.5" y1="564" x2="329.5" y2="560"/><line x1="338.5" y1="564" x2="338.5" y2="560"/><line x1="347.5" y1="564" x2="347.5" y2="556"/><line x1="356.5" y1="564" x2="356.5" y2="560"/><line x1="365.5" y1="564" x2="365.5" y2="560"/><line x1="375.5" y1="564" x2="375.5" y2="560"/><line x1="384.5" y1="564" x2="384.5" y2="560"/><line x1="393.5" y1="564" x2="393.5" y2="560"/><line x1="402.5" y1="564" x2="402.5" y2="556"/><line x1="412.5" y1="564" x2="412.5" y2="560"/><line x1="421.5" y1="564" x2="421.5" y2="560"/><line x1="430.5" y1="564" x2="430.5" y2="560"/><line x1="439.5" y1="564" x2="439.5" y2="560"/><line x1="448.5" y1="564" x2="448.5" y2="560"/><line x1="458.5" y1="564" x2="458.5" y2="556"/><line x1="467.5" y1="564" x2="467.5" y2="560"/><line x1="476.5" y1="564" x2="476.5" y2="560"/><line x1="485.5" y1="564" x2="485.5" y2="560"/><line x1="494.5" y1="564" x2="494.5" y2="560"/><line x1="504.5" y1="564" x2="504.5" y2="560"/><line x1="513.5" y1="564" x2="513.5" y2="556"/><line x1="513.5" y1="414" x2="513.5" y2="422"/><line x1="522.5" y1="564" x2="522.5" y2="560"/><line x1="531.5" y1="564" x2="531.5" y2="560"/><line x1="540.5" y1="564" x2="540.5" y2="560"/><line x1="550.5" y1="564" x2="550.5" y2="560"/><line x1="559.5" y1="564" x2="559.5" y2="560"/><line x1="568.5" y1="564" x2="568.5" y2="556"/><line x1="577.5" y1="564" x2="577.5" y2="560"/><line x1="586.5" y1="564" x2="586.5" y2="560"/><line x1="596.5" y1="564" x2="596.5" y2="560"/><line x1="605.5" y1="564" x2="605.5" y2="560"/><line x1="614.5" y1="564" x2="614.5" y2="560"/><line x1="623.5" y1="564" x2="623.5" y2="556"/><line x1="633.5" y1="564" x2="633.5" y2="560"/><line x1="642.5" y1="564" x2="642.5" y2="560"/><line x1="651.5" y1="564" x2="651.5" y2="560"/><line x1="660.5" y1="564" x2="660.5" y2="560"/><line x1="669.5" y1="564" x2="669.5" y2="560"/><line x1="679.5" y1="564" x2="679.5" y2="556"/><line x1="688.5" y1="564" x2="688.5" y2="560"/><line x1="697.5" y1="564" x2="697.5" y2="560"/><line x1="706.5" y1="564" x2="706.5" y2="560"/><line x1="715.5" y1="564" x2="715.5" y2="560"/><line x1="725.5" y1="564" x2="725.5" y2="560"/><line x1="734.5" y1="564" x2="734.5" y2="556"/><line x1="734.5" y1="414" x2="734.5" y2="422"/><line x1="743.5" y1="564" x2="743.5" y2="560"/><rect x="80.5" y="414.5" width="663" height="150"/><line x1="80" y1="432.5" x2="743" y2="432.5"/></g>
<text x="69.50" y="568.20" font-size="13.33" text-anchor="end" fill="#000" >0</text>
<text x="754.10" y="568.20" font-size="13.33" text-anchor="start" fill="#000" >0</text>
<text x="69.50" y="535.20" font-size="13.33" text-anchor="end" fill="#000" >2</text>
<text x="754.10" y="535.20" font-size="13.33" text-anchor="start" fill="#000" >2</text>
<text x="69.50" y="502.20" font-size="13.33" text-anchor="end" fill="#000" >4</text>
<text x="754.10" y="502.20" font-size="13.33" text-anchor="start" fill="#000" >4</text>
<text x="69.50" y="469.20" font-size="13.33" text-anchor="end" fill="#000" >6</text>
<text x="754.10" y="469.20" font-size="13.33" text-anchor="start" fill="#000" >6</text>
<text x="69.50" y="436.20" font-size="13.33" text-anchor="end" fill="#000" >8</text>
<text x="754.10" y="436.20" font-size="13.33" text-anchor="start" fill="#000" >8</text>
<text x="124.50" y="581.00" font-size="13.33" text-anchor="middle" fill="#000" >06</text>
<text x="179.50" y="581.00" font-size="13.33" text-anchor="middle" fill="#000" >12</text>
<text x="235.50" y="581.00" font-size="13.33" text-anchor="middle" fill="#000" >18</text>
<text x="290.50" y="581.00" font-size="13.33" text-anchor="middle" fill="#000" >00</text>
<text x="345.50" y="581.00" font-size="13.33" text-anchor="middle" fill="#000" >06</text>
<text x="400.50" y="581.00" font-size="13.33" text-anchor="middle" fill="#000" >12</text>
<text x="456.50" y="581.00" font-size="13.33" text-anchor="middle" fill="#000" >18</text>
<text x="511.50" y="581.00" font-size="13.33" text-anchor="middle" fill="#000" >00</text>
<text x="566.50" y="581.00" font-size="13.33" text-anchor="middle" fill="#000" >06</text>
<text x="621.50" y="581.00" font-size="13.33" text-anchor="middle" fill="#000" >12</text>
<text x="677.50" y="581.00" font-size="13.33" text-anchor="middle" fill="#000" >18</text>
<text x="732.50" y="581.00" font-size="13.33" text-anchor="middle" fill="#000" >00</text>
<text x="409.75" y="596.30" font-size="13.33" text-anchor="middle" fill="#000" >SEČ [h]</text>
<text x="290.10" y="406.00" font-size="13.33" text-anchor="middle" fill="#000" >14.11. Pá</text>
<text x="511.10" y="406.00" font-size="13.33" text-anchor="middle" fill="#000" >15.11. So</text>
<text x="732.10" y="406.00" font-size="13.33" text-anchor="middle" fill="#000" >16.11. Ne</text>
<text x="0" y="0" font-size="13.33" text-anchor="middle" transform="translate(24.5,498.7) rotate(-90)">Rychlost větru [m/s]</text>
<text x="0" y="0" font-size="13.33" text-anchor="middle" transform="translate(42,495.6) rotate(-90)">Nárazy větru [m/s]</text>
<text x="30.90" y="418.10" font-size="10" text-anchor="middle" fill="#000" >S</text>
<text x="22.60" y="426.90" font-size="10" text-anchor="middle" fill="#000" >Z</text>
<text x="38.20" y="426.90" font-size="10" text-anchor="middle" fill="#000" >V</text>
<text x="30.20" y="432.80" font-size="10" text-anchor="middle" fill="#000" >J</text>
<polyline points="80.00,651.00 89.21,650.00 98.42,649.00 107.62,648.00 116.83,648.00 126.04,648.00 135.25,648.00 144.46,650.40 153.67,657.00 162.88,661.60 172.08,668.00 181.29,673.00 190.50,678.00 199.71,682.40 208.92,684.00 218.12,678.00 227.33,668.00 236.54,661.00 245.75,655.60 254.96,651.00 264.17,646.60 273.38,645.00 282.58,645.00 291.79,645.00 301.00,646.60 310.21,646.60 319.42,646.60 328.62,647.60 337.83,648.60 347.04,647.60 356.25,647.60 365.46,650.40 374.67,656.00 383.88,666.00 393.08,670.40 402.29,675.00 411.50,677.60 420.71,679.00 429.92,674.00 439.12,667.00 448.33,658.00 457.54,649.60 466.75,645.00 475.96,644.00 485.17,644.00 494.38,641.60 503.58,639.00 512.79,639.00 522.00,639.00 531.21,637.80 540.42,637.00 549.62,637.00 558.83,637.00 568.04,637.00 577.25,637.00 586.46,637.00 595.67,640.40 604.88,646.00 614.08,651.60 623.29,657.00 632.50,661.50 641.71,662.80 650.92,663.60 660.12,661.50 669.33,652.00 678.54,647.00 687.75,646.00 696.96,646.00 706.17,646.80 715.38,645.80 724.58,644.00 733.79,642.60 743.00,641.90" fill="none" stroke="#000080" stroke-width="2" stroke-linejoin="round" stroke-linecap="butt" shape-rendering="crispEdges"/>
<g stroke="#a0a0a0" stroke-width="1" stroke-dasharray="2,2" fill="none"><line x1="80" y1="736.5" x2="743" y2="736.5"/><line x1="80" y1="709.5" x2="743" y2="709.5"/><line x1="80" y1="683.5" x2="743" y2="683.5"/><line x1="80" y1="656.5" x2="743" y2="656.5"/><line x1="126.5" y1="763" x2="126.5" y2="630"/><line x1="181.5" y1="763" x2="181.5" y2="630"/><line x1="237.5" y1="763" x2="237.5" y2="630"/><line x1="292.5" y1="763" x2="292.5" y2="630"/><line x1="347.5" y1="763" x2="347.5" y2="630"/><line x1="402.5" y1="763" x2="402.5" y2="630"/><line x1="458.5" y1="763" x2="458.5" y2="630"/><line x1="513.5" y1="763" x2="513.5" y2="630"/><line x1="568.5" y1="763" x2="568.5" y2="630"/><line x1="623.5" y1="763" x2="623.5" y2="630"/><line x1="679.5" y1="763" x2="679.5" y2="630"/><line x1="734.5" y1="763" x2="734.5" y2="630"/></g>
<g stroke="#000" stroke-width="1" fill="none"><line x1="80" y1="762.5" x2="88" y2="762.5"/><line x1="80" y1="755.5" x2="84" y2="755.5"/><line x1="80" y1="749.5" x2="84" y2="749.5"/><line x1="80" y1="742.5" x2="84" y2="742.5"/><line x1="80" y1="736.5" x2="88" y2="736.5"/><line x1="80" y1="729.5" x2="84" y2="729.5"/><line x1="80" y1="722.5" x2="84" y2="722.5"/><line x1="80" y1="716.5" x2="84" y2="716.5"/><line x1="80" y1="709.5" x2="88" y2="709.5"/><line x1="80" y1="703.5" x2="84" y2="703.5"/><line x1="80" y1="696.5" x2="84" y2="696.5"/><line x1="80" y1="689.5" x2="84" y2="689.5"/><line x1="80" y1="683.5" x2="88" y2="683.5"/><line x1="80" y1="676.5" x2="84" y2="676.5"/><line x1="80" y1="670.5" x2="84" y2="670.5"/><line x1="80" y1="663.5" x2="84" y2="663.5"/><line x1="80" y1="656.5" x2="88" y2="656.5"/><line x1="80" y1="650.5" x2="84" y2="650.5"/><line x1="80" y1="643.5" x2="84" y2="643.5"/><line x1="80" y1="637.5" x2="84" y2="637.5"/><line x1="80" y1="630.5" x2="88" y2="630.5"/><line x1="735" y1="762.5" x2="743" y2="762.5"/><line x1="739" y1="749.5" x2="743" y2="749.5"/><line x1="735" y1="736.5" x2="743" y2="736.5"/><line x1="739" y1="722.5" x2="743" y2="722.5"/><line x1="735" y1="709.5" x2="743" y2="709.5"/><line x1="739" y1="696.5" x2="743" y2="696.5"/><line x1="735" y1="683.5" x2="743" y2="683.5"/><line x1="739" y1="670.5" x2="743" y2="670.5"/><line x1="735" y1="656.5" x2="743" y2="656.5"/><line x1="739" y1="643.5" x2="743" y2="643.5"/><line x1="735" y1="630.5" x2="743" y2="630.5"/><line x1="80.5" y1="762" x2="80.5" y2="758"/><line x1="89.5" y1="762" x2="89.5" y2="758"/><line x1="98.5" y1="762" x2="98.5" y2="758"/><line x1="108.5" y1="762" x2="108.5" y2="758"/><line x1="117.5" y1="762" x2="117.5" y2="758"/><line x1="126.5" y1="762" x2="126.5" y2="754"/><line x1="135.5" y1="762" x2="135.5" y2="758"/><line x1="144.5" y1="762" x2="144.5" y2="758"/><line x1="154.5" y1="762" x2="154.5" y2="758"/><line x1="163.5" y1="762" x2="163.5" y2="758"/><line x1="172.5" y1="762" x2="172.5" y2="758"/><line x1="181.5" y1="762" x2="181.5" y2="754"/><line x1="191.5" y1="762" x2="191.5" y2="758"/><line x1="200.5" y1="762" x2="200.5" y2="758"/><line x1="209.5" y1="762" x2="209.5" y2="758"/><line x1="218.5" y1="762" x2="218.5" y2="758"/><line x1="227.5" y1="762" x2="227.5" y2="758"/><line x1="237.5" y1="762" x2="237.5" y2="754"/><line x1="246.5" y1="762" x2="246.5" y2="758"/><line x1="255.5" y1="762" x2="255.5" y2="758"/><line x1="264.5" y1="762" x2="264.5" y2="758"/><line x1="273.5" y1="762" x2="273.5" y2="758"/><line x1="283.5" y1="762" x2="283.5" y2="758"/><line x1="292.5" y1="762" x2="292.5" y2="754"/><line x1="292.5" y1="630" x2="292.5" y2="638"/><line x1="301.5" y1="762" x2="301.5" y2="758"/><line x1="310.5" y1="762" x2="310.5" y2="758"/><line x1="319.5" y1="762" x2="319.5" y2="758"/><line x1="329.5" y1="762" x2="329.5" y2="758"/><line x1="338.5" y1="762" x2="338.5" y2="758"/><line x1="347.5" y1="762" x2="347.5" y2="754"/><line x1="356.5" y1="762" x2="356.5" y2="758"/><line x1="365.5" y1="762" x2="365.5" y2="758"/><line x1="375.5" y1="762" x2="375.5" y2="758"/><line x1="384.5" y1="762" x2="384.5" y2="758"/><line x1="393.5" y1="762" x2="393.5" y2="758"/><line x1="402.5" y1="762" x2="402.5" y2="754"/><line x1="412.5" y1="762" x2="412.5" y2="758"/><line x1="421.5" y1="762" x2="421.5" y2="758"/><line x1="430.5" y1="762" x2="430.5" y2="758"/><line x1="439.5" y1="762" x2="439.5" y2="758"/><line x1="448.5" y1="762" x2="448.5" y2="758"/><line x1="458.5" y1="762" x2="458.5" y2="754"/><line x1="467.5" y1="762" x2="467.5" y2="758"/><line x1="476.5" y1="762" x2="476.5" y2="758"/><line x1="485.5" y1="762" x2="485.5" y2="758"/><line x1="494.5" y1="762" x2="494.5" y2="758"/><line x1="504.5" y1="762" x2="504.5" y2="758"/><line x1="513.5" y1="762" x2="513.5" y2="754"/><line x1="513.5" y1="630" x2="513.5" y2="638"/><line x1="522.5" y1="762" x2="522.5" y2="758"/><line x1="531.5" y1="762" x2="531.5" y2="758"/><line x1="540.5" y1="762" x2="540.5" y2="758"/><line x1="550.5" y1="762" x2="550.5" y2="758"/><line x1="559.5" y1="762" x2="559.5" y2="758"/><line x1="568.5" y1="762" x2="568.5" y2="754"/><line x1="577.5" y1="762" x2="577.5" y2="758"/><line x1="586.5" y1="762" x2="586.5" y2="758"/><line x1="596.5" y1="762" x2="596.5" y2="758"/><line x1="605.5" y1="762" x2="605.5" y2="758"/><line x1="614.5" y1="762" x2="614.5" y2="758"/><line x1="623.5" y1="762" x2="623.5" y2="754"/><line x1="633.5" y1="762" x2="633.5" y2="758"/><line x1="642.5" y1="762" x2="642.5" y2="758"/><line x1="651.5" y1="762" x2="651.5" y2="758"/><line x1="660.5" y1="762" x2="660.5" y2="758"/><line x1="669.5" y1="762" x2="669.5" y2="758"/><line x1="679.5" y1="762" x2="679.5" y2="754"/><line x1="688.5" y1="762" x2="688.5" y2="758"/><line x1="697.5" y1="762" x2="697.5" y2="758"/><line x1="706.5" y1="762" x2="706.5" y2="758"/><line x1="715.5" y1="762" x2="715.5" y2="758"/><line x1="725.5" y1="762" x2="725.5" y2="758"/><line x1="734.5" y1="762" x2="734.5" y2="754"/><line x1="734.5" y1="630" x2="734.5" y2="638"/><line x1="743.5" y1="762" x2="743.5" y2="758"/><rect x="80.5" y="630.5" width="663" height="132"/></g>
<text x="69.50" y="766.20" font-size="13.33" text-anchor="end" fill="#000" >0</text>
<text x="69.50" y="740.20" font-size="13.33" text-anchor="end" fill="#000" >1</text>
<text x="69.50" y="713.20" font-size="13.33" text-anchor="end" fill="#000" >2</text>
<text x="69.50" y="687.20" font-size="13.33" text-anchor="end" fill="#000" >3</text>
<text x="69.50" y="660.20" font-size="13.33" text-anchor="end" fill="#000" >4</text>
<text x="69.50" y="634.20" font-size="13.33" text-anchor="end" fill="#000" >5</text>
<text x="754.10" y="766.20" font-size="13.33" text-anchor="start" fill="#000" >0</text>
<text x="754.10" y="740.20" font-size="13.33" text-anchor="start" fill="#000" >20</text>
<text x="754.10" y="713.20" font-size="13.33" text-anchor="start" fill="#000" >40</text>
<text x="754.10" y="687.20" font-size="13.33" text-anchor="start" fill="#000" >60</text>
<text x="754.10" y="660.20" font-size="13.33" text-anchor="start" fill="#000" >80</text>
<text x="754.10" y="634.20" font-size="13.33" text-anchor="start" fill="#000" >100</text>
<text x="124.50" y="779.00" font-size="13.33" text-anchor="middle" fill="#000" >06</text>
<text x="179.50" y="779.00" font-size="13.33" text-anchor="middle" fill="#000" >12</text>
<text x="235.50" y="779.00" font-size="13.33" text-anchor="middle" fill="#000" >18</text>
<text x="290.50" y="779.00" font-size="13.33" text-anchor="middle" fill="#000" >00</text>
<text x="345.50" y="779.00" font-size="13.33" text-anchor="middle" fill="#000" >06</text>
<text x="400.50" y="779.00" font-size="13.33" text-anchor="middle" fill="#000" >12</text>
<text x="456.50" y="779.00" font-size="13.33" text-anchor="middle" fill="#000" >18</text>
<text x="511.50" y="779.00" font-size="13.33" text-anchor="middle" fill="#000" >00</text>
<text x="566.50" y="779.00" font-size="13.33" text-anchor="middle" fill="#000" >06</text>
<text x="621.50" y="779.00" font-size="13.33" text-anchor="middle" fill="#000" >12</text>
<text x="677.50" y="779.00" font-size="13.33" text-anchor="middle" fill="#000" >18</text>
<text x="732.50" y="779.00" font-size="13.33" text-anchor="middle" fill="#000" >00</text>
<text x="409.75" y="794.30" font-size="13.33" text-anchor="middle" fill="#000" >SEČ [h]</text>
<text x="290.10" y="622.00" font-size="13.33" text-anchor="middle" fill="#000" >14.11. Pá</text>
<text x="511.10" y="622.00" font-size="13.33" text-anchor="middle" fill="#000" >15.11. So</text>
<text x="732.10" y="622.00" font-size="13.33" text-anchor="middle" fill="#000" >16.11. Ne</text>
<text x="0" y="0" font-size="13.33" text-anchor="middle" transform="translate(24.5,697) rotate(-90)">Celkové srážky [mm/h]</text>
<text x="0" y="0" font-size="13.33" text-anchor="middle" transform="translate(42,695.8) rotate(-90)">Sníh [mm/h]</text>
<text x="0" y="0" font-size="13.33" text-anchor="middle" transform="translate(787,696.6) rotate(-90)">Relativní vlhkost [%]</text>
<polyline points="80.00,846.40 89.21,844.00 98.42,843.00 107.62,842.00 116.83,844.60 126.04,845.60 135.25,844.60 144.46,843.00 153.67,843.60 162.88,843.60 172.08,847.00 181.29,854.00 190.50,863.00 199.71,868.40 208.92,867.60 218.12,867.60 227.33,865.60 236.54,862.00 245.75,858.00 254.96,858.00 264.17,858.00 273.38,856.60 282.58,858.00 291.79,860.00 301.00,862.60 310.21,861.60 319.42,861.00 328.62,866.00 337.83,872.40 347.04,873.60 356.25,875.00 365.46,871.60 374.67,876.40 383.88,880.50 393.08,885.00 402.29,892.00 411.50,898.00 420.71,906.40 429.92,908.40 439.12,905.60 448.33,904.40 457.54,904.40 466.75,904.40 475.96,906.00 485.17,907.60 494.38,907.60 503.58,907.60 512.79,910.40 522.00,910.40 531.21,911.60 540.42,913.60 549.62,915.00 558.83,918.40 568.04,918.40 577.25,915.00 586.46,913.60 595.67,914.40 604.88,913.60 614.08,916.00 623.29,921.30 632.50,926.50 641.71,934.50 650.92,934.50 660.12,932.40 669.33,930.90 678.54,931.90 687.75,932.60 696.96,934.00 706.17,938.00 715.38,940.90 724.58,946.10 733.79,949.30 743.00,953.00" fill="none" stroke="#ffa500" stroke-width="2" stroke-linejoin="round" stroke-linecap="butt" shape-rendering="crispEdges"/>
<g stroke="#a0a0a0" stroke-width="1" stroke-dasharray="2,2" fill="none"><line x1="80" y1="938.5" x2="743" y2="938.5"/><line x1="80" y1="916.5" x2="743" y2="916.5"/><line x1="80" y1="894.5" x2="743" y2="894.5"/><line x1="80" y1="872.5" x2="743" y2="872.5"/><line x1="80" y1="850.5" x2="743" y2="850.5"/><line x1="126.5" y1="961" x2="126.5" y2="828"/><line x1="181.5" y1="961" x2="181.5" y2="828"/><line x1="237.5" y1="961" x2="237.5" y2="828"/><line x1="292.5" y1="961" x2="292.5" y2="828"/><line x1="347.5" y1="961" x2="347.5" y2="828"/><line x1="402.5" y1="961" x2="402.5" y2="828"/><line x1="458.5" y1="961" x2="458.5" y2="828"/><line x1="513.5" y1="961" x2="513.5" y2="828"/><line x1="568.5" y1="961" x2="568.5" y2="828"/><line x1="623.5" y1="961" x2="623.5" y2="828"/><line x1="679.5" y1="961" x2="679.5" y2="828"/><line x1="734.5" y1="961" x2="734.5" y2="828"/></g>
<g stroke="#000" stroke-width="1" fill="none"><line x1="80" y1="960.5" x2="88" y2="960.5"/><line x1="735" y1="960.5" x2="743" y2="960.5"/><line x1="80" y1="954.5" x2="84" y2="954.5"/><line x1="739" y1="954.5" x2="743" y2="954.5"/><line x1="80" y1="949.5" x2="84" y2="949.5"/><line x1="739" y1="949.5" x2="743" y2="949.5"/><line x1="80" y1="943.5" x2="84" y2="943.5"/><line x1="739" y1="943.5" x2="743" y2="943.5"/><line x1="80" y1="938.5" x2="88" y2="938.5"/><line x1="735" y1="938.5" x2="743" y2="938.5"/><line x1="80" y1="932.5" x2="84" y2="932.5"/><line x1="739" y1="932.5" x2="743" y2="932.5"/><line x1="80" y1="927.5" x2="84" y2="927.5"/><line x1="739" y1="927.5" x2="743" y2="927.5"/><line x1="80" y1="921.5" x2="84" y2="921.5"/><line x1="739" y1="921.5" x2="743" y2="921.5"/><line x1="80" y1="916.5" x2="88" y2="916.5"/><line x1="735" y1="916.5" x2="743" y2="916.5"/><line x1="80" y1="910.5" x2="84" y2="910.5"/><line x1="739" y1="910.5" x2="743" y2="910.5"/><line x1="80" y1="905.5" x2="84" y2="905.5"/><line x1="739" y1="905.5" x2="743" y2="905.5"/><line x1="80" y1="899.5" x2="84" y2="899.5"/><line x1="739" y1="899.5" x2="743" y2="899.5"/><line x1="80" y1="894.5" x2="88" y2="894.5"/><line x1="735" y1="894.5" x2="743" y2="894.5"/><line x1="80" y1="888.5" x2="84" y2="888.5"/><line x1="739" y1="888.5" x2="743" y2="888.5"/><line x1="80" y1="883.5" x2="84" y2="883.5"/><line x1="739" y1="883.5" x2="743" y2="883.5"/><line x1="80" y1="877.5" x2="84" y2="877.5"/><line x1="739" y1="877.5" x2="743" y2="877.5"/><line x1="80" y1="872.5" x2="88" y2="872.5"/><line x1="735" y1="872.5" x2="743" y2="872.5"/><line x1="80" y1="866.5" x2="84" y2="866.5"/><line x1="739" y1="866.5" x2="743" y2="866.5"/><line x1="80" y1="861.5" x2="84" y2="861.5"/><line x1="739" y1="861.5" x2="743" y2="861.5"/><line x1="80" y1="855.5" x2="84" y2="855.5"/><line x1="739" y1="855.5" x2="743" y2="855.5"/><line x1="80" y1="850.5" x2="88" y2="850.5"/><line x1="735" y1="850.5" x2="743" y2="850.5"/><line x1="80" y1="844.5" x2="84" y2="844.5"/><line x1="739" y1="844.5" x2="743" y2="844.5"/><line x1="80" y1="839.5" x2="84" y2="839.5"/><line x1="739" y1="839.5" x2="743" y2="839.5"/><line x1="80" y1="833.5" x2="84" y2="833.5"/><line x1="739" y1="833.5" x2="743" y2="833.5"/><line x1="80" y1="828.5" x2="88" y2="828.5"/><line x1="735" y1="828.5" x2="743" y2="828.5"/><line x1="80.5" y1="960" x2="80.5" y2="956"/><line x1="89.5" y1="960" x2="89.5" y2="956"/><line x1="98.5" y1="960" x2="98.5" y2="956"/><line x1="108.5" y1="960" x2="108.5" y2="956"/><line x1="117.5" y1="960" x2="117.5" y2="956"/><line x1="126.5" y1="960" x2="126.5" y2="952"/><line x1="135.5" y1="960" x2="135.5" y2="956"/><line x1="144.5" y1="960" x2="144.5" y2="956"/><line x1="154.5" y1="960" x2="154.5" y2="956"/><line x1="163.5" y1="960" x2="163.5" y2="956"/><line x1="172.5" y1="960" x2="172.5" y2="956"/><line x1="181.5" y1="960" x2="181.5" y2="952"/><line x1="191.5" y1="960" x2="191.5" y2="956"/><line x1="200.5" y1="960" x2="200.5" y2="956"/><line x1="209.5" y1="960" x2="209.5" y2="956"/><line x1="218.5" y1="960" x2="218.5" y2="956"/><line x1="227.5" y1="960" x2="227.5" y2="956"/><line x1="237.5" y1="960" x2="237.5" y2="952"/><line x1="246.5" y1="960" x2="246.5" y2="956"/><line x1="255.5" y1="960" x2="255.5" y2="956"/><line x1="264.5" y1="960" x2="264.5" y2="956"/><line x1="273.5" y1="960" x2="273.5" y2="956"/><line x1="283.5" y1="960" x2="283.5" y2="956"/><line x1="292.5" y1="960" x2="292.5" y2="952"/><line x1="292.5" y1="828" x2="292.5" y2="836"/><line x1="301.5" y1="960" x2="301.5" y2="956"/><line x1="310.5" y1="960" x2="310.5" y2="956"/><line x1="319.5" y1="960" x2="319.5" y2="956"/><line x1="329.5" y1="960" x2="329.5" y2="956"/><line x1="338.5" y1="960" x2="338.5" y2="956"/><line x1="347.5" y1="960" x2="347.5" y2="952"/><line x1="356.5" y1="960" x2="356.5" y2="956"/><line x1="365.5" y1="960" x2="365.5" y2="956"/><line x1="375.5" y1="960" x2="375.5" y2="956"/><line x1="384.5" y1="960" x2="384.5" y2="956"/><line x1="393.5" y1="960" x2="393.5" y2="956"/><line x1="402.5" y1="960" x2="402.5" y2="952"/><line x1="412.5" y1="960" x2="412.5" y2="956"/><line x1="421.5" y1="960" x2="421.5" y2="956"/><line x1="430.5" y1="960" x2="430.5" y2="956"/><line x1="439.5" y1="960" x2="439.5" y2="956"/><line x1="448.5" y1="960" x2="448.5" y2="956"/><line x1="458.5" y1="960" x2="458.5" y2="952"/><line x1="467.5" y1="960" x2="467.5" y2="956"/><line x1="476.5" y1="960" x2="476.5" y2="956"/><line x1="485.5" y1="960" x2="485.5" y2="956"/><line x1="494.5" y1="960" x2="494.5" y2="956"/><line x1="504.5" y1="960" x2="504.5" y2="956"/><line x1="513.5" y1="960" x2="513.5" y2="952"/><line x1="513.5" y1="828" x2="513.5" y2="836"/><line x1="522.5" y1="960" x2="522.5" y2="956"/><line x1="531.5" y1="960" x2="531.5" y2="956"/><line x1="540.5" y1="960" x2="540.5" y2="956"/><line x1="550.5" y1="960" x2="550.5" y2="956"/><line x1="559.5" y1="960" x2="559.5" y2="956"/><line x1="568.5" y1="960" x2="568.5" y2="952"/><line x1="577.5" y1="960" x2="577.5" y2="956"/><line x1="586.5" y1="960" x2="586.5" y2="956"/><line x1="596.5" y1="960" x2="596.5" y2="956"/><line x1="605.5" y1="960" x2="605.5" y2="956"/><line x1="614.5" y1="960" x2="614.5" y2="956"/><line x1="623.5" y1="960" x2="623.5" y2="952"/><line x1="633.5" y1="960" x2="633.5" y2="956"/><line x1="642.5" y1="960" x2="642.5" y2="956"/><line x1="651.5" y1="960" x2="651.5" y2="956"/><line x1="660.5" y1="960" x2="660.5" y2="956"/><line x1="669.5" y1="960" x2="669.5" y2="956"/><line x1="679.5" y1="960" x2="679.5" y2="952"/><line x1="688.5" y1="960" x2="688.5" y2="956"/><line x1="697.5" y1="960" x2="697.5" y2="956"/><line x1="706.5" y1="960" x2="706.5" y2="956"/><line x1="715.5" y1="960" x2="715.5" y2="956"/><line x1="725.5" y1="960" x2="725.5" y2="956"/><line x1="734.5" y1="960" x2="734.5" y2="952"/><line x1="734.5" y1="828" x2="734.5" y2="836"/><line x1="743.5" y1="960" x2="743.5" y2="956"/><rect x="80.5" y="828.5" width="663" height="132"/></g>
<text x="69.50" y="964.20" font-size="13.33" text-anchor="end" fill="#000" >1010</text>
<text x="754.10" y="964.20" font-size="13.33" text-anchor="start" fill="#000" >1010</text>
<text x="69.50" y="942.20" font-size="13.33" text-anchor="end" fill="#000" >1012</text>
<text x="754.10" y="942.20" font-size="13.33" text-anchor="start" fill="#000" >1012</text>
<text x="69.50" y="920.20" font-size="13.33" text-anchor="end" fill="#000" >1014</text>
<text x="754.10" y="920.20" font-size="13.33" text-anchor="start" fill="#000" >1014</text>
<text x="69.50" y="898.20" font-size="13.33" text-anchor="end" fill="#000" >1016</text>
<text x="754.10" y="898.20" font-size="13.33" text-anchor="start" fill="#000" >1016</text>
<text x="69.50" y="876.20" font-size="13.33" text-anchor="end" fill="#000" >1018</text>
<text x="754.10" y="876.20" font-size="13.33" text-anchor="start" fill="#000" >1018</text>
<text x="69.50" y="854.20" font-size="13.33" text-anchor="end" fill="#000" >1020</text>
<text x="754.10" y="854.20" font-size="13.33" text-anchor="start" fill="#000" >1020</text>
<text x="69.50" y="832.20" font-size="13.33" text-anchor="end" fill="#000" >1022</text>
<text x="754.10" y="832.20" font-size="13.33" text-anchor="start" fill="#000" >1022</text>
<text x="124.50" y="977.00" font-size="13.33" text-anchor="middle" fill="#000" >06</text>
<text x="179.50" y="977.00" font-size="13.33" text-anchor="middle" fill="#000" >12</text>
<text x="235.50" y="977.00" font-size="13.33" text-anchor="middle" fill="#000" >18</text>
<text x="290.50" y="977.00" font-size="13.33" text-anchor="middle" fill="#000" >00</text>
<text x="345.50" y="977.00" font-size="13.33" text-anchor="middle" fill="#000" >06</text>
<text x="400.50" y="977.00" font-size="13.33" text-anchor="middle" fill="#000" >12</text>
<text x="456.50" y="977.00" font-size="13.33" text-anchor="middle" fill="#000" >18</text>
<text x="511.50" y="977.00" font-size="13.33" text-anchor="middle" fill="#000" >00</text>
<text x="566.50" y="977.00" font-size="13.33" text-anchor="middle" fill="#000" >06</text>
<text x="621.50" y="977.00" font-size="13.33" text-anchor="middle" fill="#000" >12</text>
<text x="677.50" y="977.00" font-size="13.33" text-anchor="middle" fill="#000" >18</text>
<text x="732.50" y="977.00" font-size="13.33" text-anchor="middle" fill="#000" >00</text>
<text x="409.75" y="992.30" font-size="13.33" text-anchor="middle" fill="#000" >SEČ [h]</text>
<text x="290.10" y="820.00" font-size="13.33" text-anchor="middle" fill="#000" >14.11. Pá</text>
<text x="511.10" y="820.00" font-size="13.33" text-anchor="middle" fill="#000" >15.11. So</text>
<text x="732.10" y="820.00" font-size="13.33" text-anchor="middle" fill="#000" >16.11. Ne</text>
<text x="0" y="0" font-size="13.33" text-anchor="middle" transform="translate(27,894) rotate(-90)">Tlak [hPa]</text>
<polygon points="80.00,1158 80.00,1033.70 89.21,1051.80 98.42,1090.60 107.62,1111.50 116.83,1129.30 126.04,1147.00 135.25,1135.60 144.46,1146.30 153.67,1128.60 162.88,1154.20 172.08,1152.50 181.29,1142.20 190.50,1154.60 199.71,1136.00 208.92,1106.70 218.12,1076.00 227.33,1066.70 236.54,1096.20 245.75,1107.50 254.96,1125.50 264.17,1145.00 273.38,1139.70 282.58,1152.20 291.79,1147.70 301.00,1124.00 310.21,1073.00 319.42,1067.30 328.62,1074.50 337.83,1100.00 347.04,1064.00 356.25,1038.80 365.46,1028.30 374.67,1029.20 383.88,1031.30 393.08,1027.20 402.29,1041.20 411.50,1051.50 420.71,1046.70 429.92,1038.20 439.12,1033.70 448.33,1056.50 457.54,1152.50 466.75,1150.70 475.96,1141.70 485.17,1151.70 494.38,1138.70 503.58,1141.20 512.79,1153.70 522.00,1102.00 531.21,1040.75 540.42,1051.25 549.62,1067.75 558.83,1037.00 568.04,1034.75 577.25,1029.20 586.46,1027.25 595.67,1027.25 604.88,1028.00 614.08,1028.30 623.29,1028.00 632.50,1027.25 641.71,1027.00 650.92,1027.00 660.12,1027.00 669.33,1027.00 678.54,1027.00 687.75,1027.00 696.96,1027.00 706.17,1027.00 715.38,1027.00 724.58,1027.00 733.79,1027.00 743.00,1027.00 743.00,1158" fill="#dcdcdc" stroke="none"/><polygon points="80.00,1158 80.00,1158.50 89.21,1158.50 98.42,1158.50 107.62,1158.50 116.83,1158.50 126.04,1158.50 135.25,1158.50 144.46,1158.50 153.67,1158.50 162.88,1158.50 172.08,1158.50 181.29,1158.50 190.50,1158.50 199.71,1158.50 208.92,1158.50 218.12,1158.50 227.33,1158.50 236.54,1158.50 245.75,1158.50 254.96,1158.50 264.17,1158.50 273.38,1158.50 282.58,1158.50 291.79,1158.50 301.00,1158.50 310.21,1158.50 319.42,1158.50 328.62,1158.50 337.83,1158.50 347.04,1158.50 356.25,1158.50 365.46,1158.50 374.67,1158.50 383.88,1157.00 393.08,1157.00 402.29,1157.00 411.50,1158.50 420.71,1158.50 429.92,1158.50 439.12,1158.50 448.33,1158.50 457.54,1158.50 466.75,1158.50 475.96,1158.50 485.17,1158.50 494.38,1158.50 503.58,1158.50 512.79,1158.50 522.00,1158.50 531.21,1158.50 540.42,1158.50 549.62,1158.50 558.83,1154.00 568.04,1158.50 577.25,1158.50 586.46,1158.50 595.67,1158.50 604.88,1151.00 614.08,1157.00 623.29,1158.50 632.50,1158.50 641.71,1158.50 650.92,1118.70 660.12,1079.75 669.33,1125.50 678.54,1137.50 687.75,1108.25 696.96,1138.25 706.17,1155.50 715.38,1131.50 724.58,1149.50 733.79,1157.00 743.00,1108.25 743.00,1158" fill="#666666" stroke="none"/>
<g stroke="#000" stroke-width="1" stroke-dasharray="2,2" fill="none"><line x1="80" y1="1132.5" x2="743" y2="1132.5"/><line x1="80" y1="1105.5" x2="743" y2="1105.5"/><line x1="80" y1="1079.5" x2="743" y2="1079.5"/><line x1="80" y1="1052.5" x2="743" y2="1052.5"/><line x1="126.5" y1="1159" x2="126.5" y2="1026"/><line x1="181.5" y1="1159" x2="181.5" y2="1026"/><line x1="237.5" y1="1159" x2="237.5" y2="1026"/><line x1="292.5" y1="1159" x2="292.5" y2="1026"/><line x1="347.5" y1="1159" x2="347.5" y2="1026"/><line x1="402.5" y1="1159" x2="402.5" y2="1026"/><line x1="458.5" y1="1159" x2="458.5" y2="1026"/><line x1="513.5" y1="1159" x2="513.5" y2="1026"/><line x1="568.5" y1="1159" x2="568.5" y2="1026"/><line x1="623.5" y1="1159" x2="623.5" y2="1026"/><line x1="679.5" y1="1159" x2="679.5" y2="1026"/><line x1="734.5" y1="1159" x2="734.5" y2="1026"/></g>
<polyline points="512.79,1153.70 522.00,1102.00 531.21,1040.75 540.42,1051.25 549.62,1067.75 558.83,1037.00 568.04,1034.75 577.25,1029.20 586.46,1027.25 595.67,1027.25 604.88,1028.00 614.08,1028.30 623.29,1028.00 632.50,1027.25 641.71,1027.00 650.92,1027.00 660.12,1027.00 669.33,1027.00 678.54,1027.00 687.75,1027.00 696.96,1027.00 706.17,1027.00 715.38,1027.00 724.58,1027.00 733.79,1027.00 743.00,1027.00" fill="none" stroke="#000" stroke-width="1"/><polyline points="80.00,1131.50 89.21,1140.50 98.42,1154.70 107.62,1157.70 116.83,1158.50 126.04,1158.50 135.25,1158.50 144.46,1158.50 153.67,1158.50 162.88,1158.50 172.08,1158.50 181.29,1158.50 190.50,1158.50 199.71,1158.50 208.92,1158.50 218.12,1158.50 227.33,1158.50 236.54,1158.50 245.75,1158.50 254.96,1158.50 264.17,1158.50 273.38,1158.50 282.58,1158.50 291.79,1158.50 301.00,1158.50 310.21,1158.50 319.42,1158.50 328.62,1158.50 337.83,1157.50 347.04,1158.50 356.25,1158.50 365.46,1158.50 374.67,1158.50 383.88,1158.50 393.08,1158.50 402.29,1157.00 411.50,1157.00 420.71,1157.70 429.92,1153.20 439.12,1127.00 448.33,1157.50 457.54,1158.50 466.75,1158.50 475.96,1158.50 485.17,1158.50 494.38,1158.50 503.58,1158.50 512.79,1158.50 522.00,1158.50 531.21,1158.50 540.42,1157.50 549.62,1111.00 558.83,1098.50 568.04,1079.50 577.25,1066.50 586.46,1033.25 595.67,1052.00 604.88,1113.00 614.08,1120.25 623.29,1086.50 632.50,1064.00 641.71,1050.50 650.92,1047.50 660.12,1043.00 669.33,1034.75 678.54,1030.25 687.75,1032.20 696.96,1037.00 706.17,1030.25 715.38,1027.70 724.58,1028.30 733.79,1034.00 743.00,1044.50" fill="none" stroke="#ff6600" stroke-width="1" stroke-linejoin="round" stroke-linecap="butt" shape-rendering="crispEdges"/><polyline points="80.00,1033.70 89.21,1051.80 98.42,1090.60 107.62,1111.50 116.83,1129.30 126.04,1147.00 135.25,1135.60 144.46,1146.30 153.67,1128.60 162.88,1154.20 172.08,1152.50 181.29,1142.20 190.50,1154.60 199.71,1136.00 208.92,1106.70 218.12,1076.00 227.33,1066.70 236.54,1096.20 245.75,1107.50 254.96,1125.50 264.17,1145.00 273.38,1139.70 282.58,1152.20 291.79,1147.70 301.00,1124.00 310.21,1073.00 319.42,1067.30 328.62,1074.50 337.83,1100.00 347.04,1064.00 356.25,1038.80 365.46,1028.30 374.67,1029.20 383.88,1031.30 393.08,1027.20 402.29,1041.20 411.50,1051.50 420.71,1046.70 429.92,1038.20 439.12,1033.70 448.33,1056.50 457.54,1152.50 466.75,1150.70 475.96,1141.70 485.17,1151.70 494.38,1138.70 503.58,1141.20 512.79,1153.70 522.00,1102.00 531.21,1040.75 540.42,1051.25 549.62,1076.75 558.83,1040.75 568.04,1039.25 577.25,1032.50 586.46,1044.50 595.67,1033.25 604.88,1030.25 614.08,1031.00 623.29,1030.25 632.50,1029.50 641.71,1027.70 650.92,1027.25 660.12,1027.70 669.33,1031.75 678.54,1081.25 687.75,1046.00 696.96,1050.20 706.17,1031.00 715.38,1027.70 724.58,1027.70 733.79,1033.25 743.00,1038.50" fill="none" stroke="#0000ff" stroke-width="1" stroke-linejoin="round" stroke-linecap="butt" shape-rendering="crispEdges"/>
<g stroke="#000" stroke-width="1" fill="none"><line x1="80" y1="1158.5" x2="88" y2="1158.5"/><line x1="735" y1="1158.5" x2="743" y2="1158.5"/><line x1="80" y1="1151.5" x2="84" y2="1151.5"/><line x1="739" y1="1151.5" x2="743" y2="1151.5"/><line x1="80" y1="1145.5" x2="84" y2="1145.5"/><line x1="739" y1="1145.5" x2="743" y2="1145.5"/><line x1="80" y1="1138.5" x2="84" y2="1138.5"/><line x1="739" y1="1138.5" x2="743" y2="1138.5"/><line x1="80" y1="1132.5" x2="88" y2="1132.5"/><line x1="735" y1="1132.5" x2="743" y2="1132.5"/><line x1="80" y1="1125.5" x2="84" y2="1125.5"/><line x1="739" y1="1125.5" x2="743" y2="1125.5"/><line x1="80" y1="1118.5" x2="84" y2="1118.5"/><line x1="739" y1="1118.5" x2="743" y2="1118.5"/><line x1="80" y1="1112.5" x2="84" y2="1112.5"/><line x1="739" y1="1112.5" x2="743" y2="1112.5"/><line x1="80" y1="1105.5" x2="88" y2="1105.5"/><line x1="735" y1="1105.5" x2="743" y2="1105.5"/><line x1="80" y1="1099.5" x2="84" y2="1099.5"/><line x1="739" y1="1099.5" x2="743" y2="1099.5"/><line x1="80" y1="1092.5" x2="84" y2="1092.5"/><line x1="739" y1="1092.5" x2="743" y2="1092.5"/><line x1="80" y1="1085.5" x2="84" y2="1085.5"/><line x1="739" y1="1085.5" x2="743" y2="1085.5"/><line x1="80" y1="1079.5" x2="88" y2="1079.5"/><line x1="735" y1="1079.5" x2="743" y2="1079.5"/><line x1="80" y1="1072.5" x2="84" y2="1072.5"/><line x1="739" y1="1072.5" x2="743" y2="1072.5"/><line x1="80" y1="1066.5" x2="84" y2="1066.5"/><line x1="739" y1="1066.5" x2="743" y2="1066.5"/><line x1="80" y1="1059.5" x2="84" y2="1059.5"/><line x1="739" y1="1059.5" x2="743" y2="1059.5"/><line x1="80" y1="1052.5" x2="88" y2="1052.5"/><line x1="735" y1="1052.5" x2="743" y2="1052.5"/><line x1="80" y1="1046.5" x2="84" y2="1046.5"/><line x1="739" y1="1046.5" x2="743" y2="1046.5"/><line x1="80" y1="1039.5" x2="84" y2="1039.5"/><line x1="739" y1="1039.5" x2="743" y2="1039.5"/><line x1="80" y1="1033.5" x2="84" y2="1033.5"/><line x1="739" y1="1033.5" x2="743" y2="1033.5"/><line x1="80" y1="1026.5" x2="88" y2="1026.5"/><line x1="735" y1="1026.5" x2="743" y2="1026.5"/><line x1="80.5" y1="1158" x2="80.5" y2="1154"/><line x1="89.5" y1="1158" x2="89.5" y2="1154"/><line x1="98.5" y1="1158" x2="98.5" y2="1154"/><line x1="108.5" y1="1158" x2="108.5" y2="1154"/><line x1="117.5" y1="1158" x2="117.5" y2="1154"/><line x1="126.5" y1="1158" x2="126.5" y2="1150"/><line x1="135.5" y1="1158" x2="135.5" y2="1154"/><line x1="144.5" y1="1158" x2="144.5" y2="1154"/><line x1="154.5" y1="1158" x2="154.5" y2="1154"/><line x1="163.5" y1="1158" x2="163.5" y2="1154"/><line x1="172.5" y1="1158" x2="172.5" y2="1154"/><line x1="181.5" y1="1158" x2="181.5" y2="1150"/><line x1="191.5" y1="1158" x2="191.5" y2="1154"/><line x1="200.5" y1="1158" x2="200.5" y2="1154"/><line x1="209.5" y1="1158" x2="209.5" y2="1154"/><line x1="218.5" y1="1158" x2="218.5" y2="1154"/><line x1="227.5" y1="1158" x2="227.5" y2="1154"/><line x1="237.5" y1="1158" x2="237.5" y2="1150"/><line x1="246.5" y1="1158" x2="246.5" y2="1154"/><line x1="255.5" y1="1158" x2="255.5" y2="1154"/><line x1="264.5" y1="1158" x2="264.5" y2="1154"/><line x1="273.5" y1="1158" x2="273.5" y2="1154"/><line x1="283.5" y1="1158" x2="283.5" y2="1154"/><line x1="292.5" y1="1158" x2="292.5" y2="1150"/><line x1="292.5" y1="1026" x2="292.5" y2="1034"/><line x1="301.5" y1="1158" x2="301.5" y2="1154"/><line x1="310.5" y1="1158" x2="310.5" y2="1154"/><line x1="319.5" y1="1158" x2="319.5" y2="1154"/><line x1="329.5" y1="1158" x2="329.5" y2="1154"/><line x1="338.5" y1="1158" x2="338.5" y2="1154"/><line x1="347.5" y1="1158" x2="347.5" y2="1150"/><line x1="356.5" y1="1158" x2="356.5" y2="1154"/><line x1="365.5" y1="1158" x2="365.5" y2="1154"/><line x1="375.5" y1="1158" x2="375.5" y2="1154"/><line x1="384.5" y1="1158" x2="384.5" y2="1154"/><line x1="393.5" y1="1158" x2="393.5" y2="1154"/><line x1="402.5" y1="1158" x2="402.5" y2="1150"/><line x1="412.5" y1="1158" x2="412.5" y2="1154"/><line x1="421.5" y1="1158" x2="421.5" y2="1154"/><line x1="430.5" y1="1158" x2="430.5" y2="1154"/><line x1="439.5" y1="1158" x2="439.5" y2="1154"/><line x1="448.5" y1="1158" x2="448.5" y2="1154"/><line x1="458.5" y1="1158" x2="458.5" y2="1150"/><line x1="467.5" y1="1158" x2="467.5" y2="1154"/><line x1="476.5" y1="1158" x2="476.5" y2="1154"/><line x1="485.5" y1="1158" x2="485.5" y2="1154"/><line x1="494.5" y1="1158" x2="494.5" y2="1154"/><line x1="504.5" y1="1158" x2="504.5" y2="1154"/><line x1="513.5" y1="1158" x2="513.5" y2="1150"/><line x1="513.5" y1="1026" x2="513.5" y2="1034"/><line x1="522.5" y1="1158" x2="522.5" y2="1154"/><line x1="531.5" y1="1158" x2="531.5" y2="1154"/><line x1="540.5" y1="1158" x2="540.5" y2="1154"/><line x1="550.5" y1="1158" x2="550.5" y2="1154"/><line x1="559.5" y1="1158" x2="559.5" y2="1154"/><line x1="568.5" y1="1158" x2="568.5" y2="1150"/><line x1="577.5" y1="1158" x2="577.5" y2="1154"/><line x1="586.5" y1="1158" x2="586.5" y2="1154"/><line x1="596.5" y1="1158" x2="596.5" y2="1154"/><line x1="605.5" y1="1158" x2="605.5" y2="1154"/><line x1="614.5" y1="1158" x2="614.5" y2="1154"/><line x1="623.5" y1="1158" x2="623.5" y2="1150"/><line x1="633.5" y1="1158" x2="633.5" y2="1154"/><line x1="642.5" y1="1158" x2="642.5" y2="1154"/><line x1="651.5" y1="1158" x2="651.5" y2="1154"/><line x1="660.5" y1="1158" x2="660.5" y2="1154"/><line x1="669.5" y1="1158" x2="669.5" y2="1154"/><line x1="679.5" y1="1158" x2="679.5" y2="1150"/><line x1="688.5" y1="1158" x2="688.5" y2="1154"/><line x1="697.5" y1="1158" x2="697.5" y2="1154"/><line x1="706.5" y1="1158" x2="706.5" y2="1154"/><line x1="715.5" y1="1158" x2="715.5" y2="1154"/><line x1="725.5" y1="1158" x2="725.5" y2="1154"/><line x1="734.5" y1="1158" x2="734.5" y2="1150"/><line x1="734.5" y1="1026" x2="734.5" y2="1034"/><line x1="743.5" y1="1158" x2="743.5" y2="1154"/><rect x="80.5" y="1026.5" width="663" height="132"/></g>
<text x="69.50" y="1162.20" font-size="13.33" text-anchor="end" fill="#000" >0</text>
<text x="754.10" y="1162.20" font-size="13.33" text-anchor="start" fill="#000" >0</text>
<text x="69.50" y="1136.20" font-size="13.33" text-anchor="end" fill="#000" >20</text>
<text x="754.10" y="1136.20" font-size="13.33" text-anchor="start" fill="#000" >20</text>
<text x="69.50" y="1109.20" font-size="13.33" text-anchor="end" fill="#000" >40</text>
<text x="754.10" y="1109.20" font-size="13.33" text-anchor="start" fill="#000" >40</text>
<text x="69.50" y="1083.20" font-size="13.33" text-anchor="end" fill="#000" >60</text>
<text x="754.10" y="1083.20" font-size="13.33" text-anchor="start" fill="#000" >60</text>
<text x="69.50" y="1056.20" font-size="13.33" text-anchor="end" fill="#000" >80</text>
<text x="754.10" y="1056.20" font-size="13.33" text-anchor="start" fill="#000" >80</text>
<text x="69.50" y="1030.20" font-size="13.33" text-anchor="end" fill="#000" >100</text>
<text x="754.10" y="1030.20" font-size="13.33" text-anchor="start" fill="#000" >100</text>
<text x="124.50" y="1175.00" font-size="13.33" text-anchor="middle" fill="#000" >06</text>
<text x="179.50" y="1175.00" font-size="13.33" text-anchor="middle" fill="#000" >12</text>
<text x="235.50" y="1175.00" font-size="13.33" text-anchor="middle" fill="#000" >18</text>
<text x="290.50" y="1175.00" font-size="13.33" text-anchor="middle" fill="#000" >00</text>
<text x="345.50" y="1175.00" font-size="13.33" text-anchor="middle" fill="#000" >06</text>
<text x="400.50" y="1175.00" font-size="13.33" text-anchor="middle" fill="#000" >12</text>
<text x="456.50" y="1175.00" font-size="13.33" text-anchor="middle" fill="#000" >18</text>
<text x="511.50" y="1175.00" font-size="13.33" text-anchor="middle" fill="#000" >00</text>
<text x="566.50" y="1175.00" font-size="13.33" text-anchor="middle" fill="#000" >06</text>
<text x="621.50" y="1175.00" font-size="13.33" text-anchor="middle" fill="#000" >12</text>
<text x="677.50" y="1175.00" font-size="13.33" text-anchor="middle" fill="#000" >18</text>
<text x="732.50" y="1175.00" font-size="13.33" text-anchor="middle" fill="#000" >00</text>
<text x="409.75" y="1190.30" font-size="13.33" text-anchor="middle" fill="#000" >SEČ [h]</text>
<text x="290.10" y="1018.00" font-size="13.33" text-anchor="middle" fill="#000" >14.11. Pá</text>
<text x="511.10" y="1018.00" font-size="13.33" text-anchor="middle" fill="#000" >15.11. So</text>
<text x="732.10" y="1018.00" font-size="13.33" text-anchor="middle" fill="#000" >16.11. Ne</text>
<text x="0" y="0" font-size="13.33" text-anchor="middle" transform="translate(27,1092) rotate(-90)">Oblačnost - pokrytí [%]</text>
</svg>
</body></html>
